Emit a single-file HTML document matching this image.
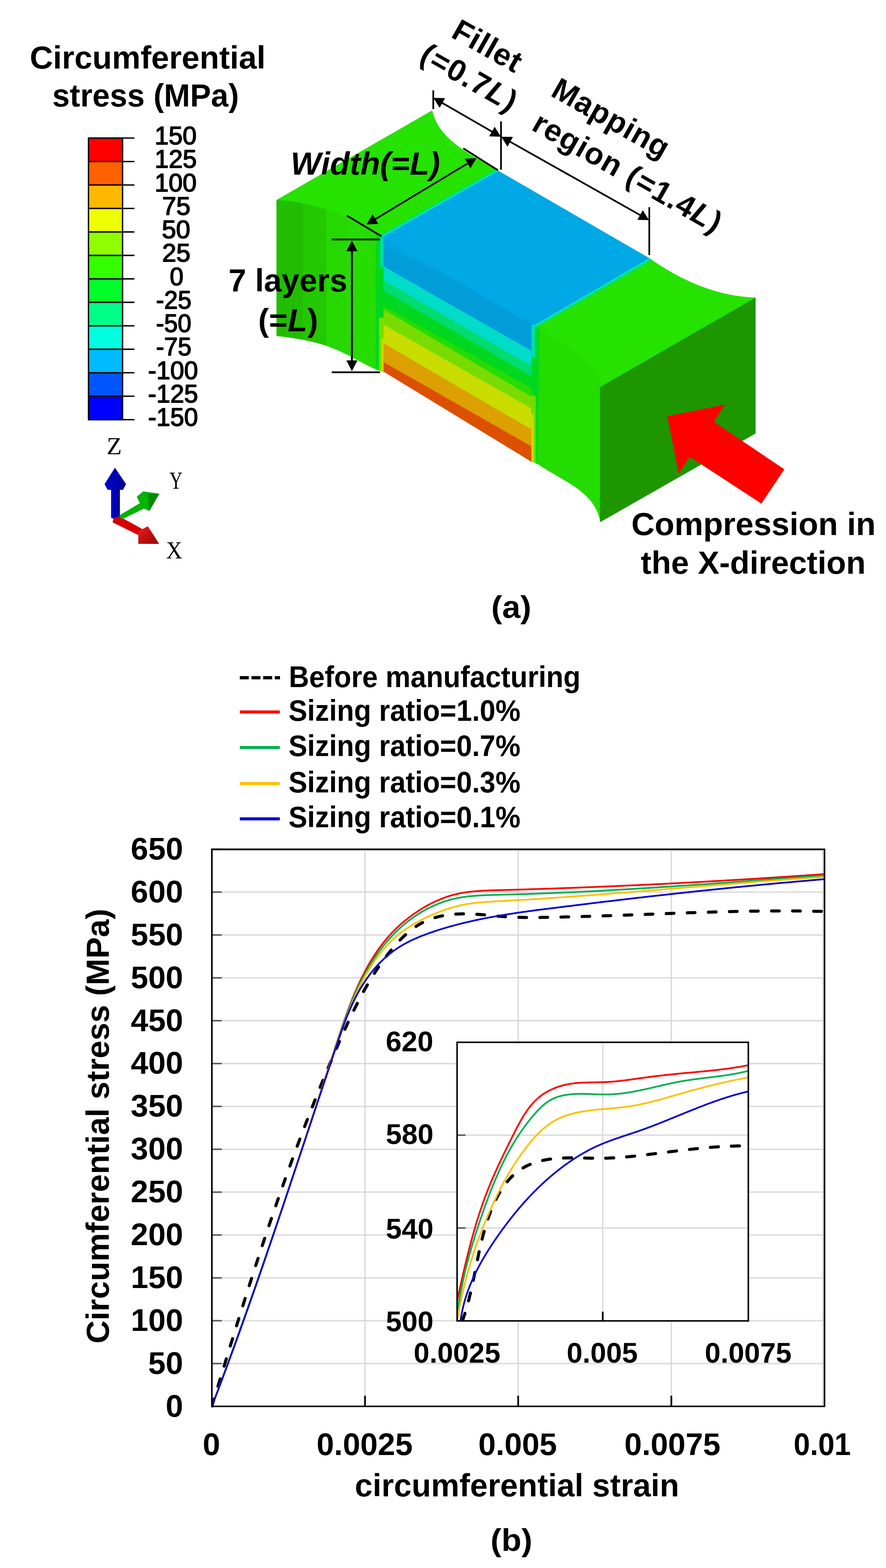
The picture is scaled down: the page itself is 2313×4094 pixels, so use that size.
<!DOCTYPE html>
<html><head><meta charset="utf-8"><style>
html,body{margin:0;padding:0;background:#fff;}
svg{display:block;}
text{font-kerning:none;}
</style></head><body>
<svg width="2313" height="4094" viewBox="0 0 2313 4094">
<rect width="2313" height="4094" fill="#fff"/>
<text transform="translate(81,178.7) scale(1.0115,1)" x="-3.3" y="0" font-size="83" fill="#000" ><tspan font-family="'Liberation Sans', Arial, sans-serif" font-weight="bold" font-style="normal">Circumferential</tspan></text>
<text transform="translate(139.4,278.4) scale(0.9871,1)" x="-2.9" y="0" font-size="83" fill="#000" ><tspan font-family="'Liberation Sans', Arial, sans-serif" font-weight="bold" font-style="normal">stress (MPa)</tspan></text>
<rect x="231" y="360.5" width="89" height="61.3" fill="#FF0000"/>
<rect x="231" y="421.8" width="89" height="61.3" fill="#FF6000"/>
<rect x="231" y="483" width="89" height="61.3" fill="#FFB800"/>
<rect x="231" y="544.3" width="89" height="61.3" fill="#EEFF00"/>
<rect x="231" y="605.6" width="89" height="61.3" fill="#90FF00"/>
<rect x="231" y="666.9" width="89" height="61.3" fill="#33FF00"/>
<rect x="231" y="728.1" width="89" height="61.3" fill="#00FF2A"/>
<rect x="231" y="789.4" width="89" height="61.3" fill="#00FF88"/>
<rect x="231" y="850.7" width="89" height="61.3" fill="#00FFE0"/>
<rect x="231" y="911.9" width="89" height="61.3" fill="#00BBFF"/>
<rect x="231" y="973.2" width="89" height="61.3" fill="#0055FF"/>
<rect x="231" y="1034.5" width="89" height="61.3" fill="#0000FF"/>
<line x1="231" y1="360.5" x2="351" y2="360.5" stroke="#000" stroke-width="3.6" />
<line x1="231" y1="421.8" x2="351" y2="421.8" stroke="#000" stroke-width="3.6" />
<line x1="231" y1="483" x2="351" y2="483" stroke="#000" stroke-width="3.6" />
<line x1="231" y1="544.3" x2="351" y2="544.3" stroke="#000" stroke-width="3.6" />
<line x1="231" y1="605.6" x2="351" y2="605.6" stroke="#000" stroke-width="3.6" />
<line x1="231" y1="666.9" x2="351" y2="666.9" stroke="#000" stroke-width="3.6" />
<line x1="231" y1="728.1" x2="351" y2="728.1" stroke="#000" stroke-width="3.6" />
<line x1="231" y1="789.4" x2="351" y2="789.4" stroke="#000" stroke-width="3.6" />
<line x1="231" y1="850.7" x2="351" y2="850.7" stroke="#000" stroke-width="3.6" />
<line x1="231" y1="911.9" x2="351" y2="911.9" stroke="#000" stroke-width="3.6" />
<line x1="231" y1="973.2" x2="351" y2="973.2" stroke="#000" stroke-width="3.6" />
<line x1="231" y1="1034.5" x2="351" y2="1034.5" stroke="#000" stroke-width="3.6" />
<line x1="231" y1="1095.7" x2="351" y2="1095.7" stroke="#000" stroke-width="3.6" />
<rect x="231" y="360.5" width="89" height="735.2" fill="none" stroke="#000" stroke-width="3.4"/>
<text transform="translate(408.6,377) scale(0.9893,1)" x="-5" y="0" font-size="66.5" fill="#000"  stroke="#000" stroke-width="2.2" stroke-linejoin="round"><tspan font-family="'Liberation Sans', Arial, sans-serif" font-weight="normal" font-style="normal">150</tspan></text>
<text transform="translate(408.7,438.3) scale(0.9915,1)" x="-5" y="0" font-size="66.5" fill="#000"  stroke="#000" stroke-width="2.2" stroke-linejoin="round"><tspan font-family="'Liberation Sans', Arial, sans-serif" font-weight="normal" font-style="normal">125</tspan></text>
<text transform="translate(408.7,499.5) scale(0.9883,1)" x="-5" y="0" font-size="66.5" fill="#000"  stroke="#000" stroke-width="2.2" stroke-linejoin="round"><tspan font-family="'Liberation Sans', Arial, sans-serif" font-weight="normal" font-style="normal">100</tspan></text>
<text transform="translate(426.5,560.8) scale(1.0010,1)" x="-3.3" y="0" font-size="66.5" fill="#000"  stroke="#000" stroke-width="2.2" stroke-linejoin="round"><tspan font-family="'Liberation Sans', Arial, sans-serif" font-weight="normal" font-style="normal">75</tspan></text>
<text transform="translate(425.1,622.1) scale(1.0069,1)" x="-2.7" y="0" font-size="66.5" fill="#000"  stroke="#000" stroke-width="2.2" stroke-linejoin="round"><tspan font-family="'Liberation Sans', Arial, sans-serif" font-weight="normal" font-style="normal">50</tspan></text>
<text transform="translate(426.5,683.4) scale(1.0010,1)" x="-3.3" y="0" font-size="66.5" fill="#000"  stroke="#000" stroke-width="2.2" stroke-linejoin="round"><tspan font-family="'Liberation Sans', Arial, sans-serif" font-weight="normal" font-style="normal">25</tspan></text>
<text transform="translate(445.8,744.6) scale(0.9649,1)" x="-2.7" y="0" font-size="66.5" fill="#000"  stroke="#000" stroke-width="2.2" stroke-linejoin="round"><tspan font-family="'Liberation Sans', Arial, sans-serif" font-weight="normal" font-style="normal">0</tspan></text>
<text transform="translate(410.1,805.9) scale(0.9631,1)" x="-3" y="0" font-size="66.5" fill="#000"  stroke="#000" stroke-width="2.2" stroke-linejoin="round"><tspan font-family="'Liberation Sans', Arial, sans-serif" font-weight="normal" font-style="normal">-25</tspan></text>
<text transform="translate(410.1,867.2) scale(0.9595,1)" x="-3" y="0" font-size="66.5" fill="#000"  stroke="#000" stroke-width="2.2" stroke-linejoin="round"><tspan font-family="'Liberation Sans', Arial, sans-serif" font-weight="normal" font-style="normal">-50</tspan></text>
<text transform="translate(410.1,928.4) scale(0.9631,1)" x="-3" y="0" font-size="66.5" fill="#000"  stroke="#000" stroke-width="2.2" stroke-linejoin="round"><tspan font-family="'Liberation Sans', Arial, sans-serif" font-weight="normal" font-style="normal">-75</tspan></text>
<text transform="translate(389.4,989.7) scale(0.9798,1)" x="-3" y="0" font-size="66.5" fill="#000"  stroke="#000" stroke-width="2.2" stroke-linejoin="round"><tspan font-family="'Liberation Sans', Arial, sans-serif" font-weight="normal" font-style="normal">-100</tspan></text>
<text transform="translate(389.4,1051) scale(0.9824,1)" x="-3" y="0" font-size="66.5" fill="#000"  stroke="#000" stroke-width="2.2" stroke-linejoin="round"><tspan font-family="'Liberation Sans', Arial, sans-serif" font-weight="normal" font-style="normal">-125</tspan></text>
<text transform="translate(389.4,1112.2) scale(0.9798,1)" x="-3" y="0" font-size="66.5" fill="#000"  stroke="#000" stroke-width="2.2" stroke-linejoin="round"><tspan font-family="'Liberation Sans', Arial, sans-serif" font-weight="normal" font-style="normal">-150</tspan></text>
<text transform="translate(281.4,1185.6) scale(1.0271,1)" x="-2.8" y="0" font-size="63" fill="#000" ><tspan font-family="'Liberation Serif', 'Times New Roman', serif" font-weight="normal" font-style="normal">Z</tspan></text>
<text transform="translate(443,1276) scale(0.7415,1)" x="-0.6" y="0" font-size="63" fill="#000" ><tspan font-family="'Liberation Serif', 'Times New Roman', serif" font-weight="normal" font-style="normal">Y</tspan></text>
<text transform="translate(435,1457.7) scale(0.9269,1)" x="-1.3" y="0" font-size="63" fill="#000" ><tspan font-family="'Liberation Serif', 'Times New Roman', serif" font-weight="normal" font-style="normal">X</tspan></text>
<defs><linearGradient id="gz" x1="0" x2="1"><stop offset="0" stop-color="#0000D8"/><stop offset="1" stop-color="#00008C"/></linearGradient><linearGradient id="gx" x1="0" y1="0" x2="1" y2="1"><stop offset="0" stop-color="#E82020"/><stop offset="1" stop-color="#980000"/></linearGradient></defs>
<polygon points="290,1279 313,1279 313,1352 302,1356 290,1352" fill="url(#gz)" />
<polygon points="300,1221 329,1264 321,1279 281,1279 273,1264" fill="url(#gz)" />
<polygon points="296,1354 311,1348 371,1381 363,1398 294,1364" fill="#D40000" />
<polygon points="361,1387 386,1374 415.5,1420 361,1420" fill="url(#gx)" />
<polygon points="311,1346 368,1312 378,1327 318,1356" fill="#00B400" />
<polygon points="357,1297 374,1283 416,1289 390,1334 371,1326" fill="#00B400" />
<polygon points="386,1290 416,1289 390,1334" fill="#008A00" />
<polygon points="722.3,522.5 1128,289 1129.1,293.2 1130.2,297.3 1131.5,301.3 1132.9,305.3 1134.4,309.1 1136,312.9 1137.7,316.6 1139.5,320.2 1141.4,323.8 1143.4,327.3 1145.5,330.7 1147.7,334.1 1150,337.4 1152.3,340.6 1154.8,343.7 1157.3,346.8 1159.9,349.9 1162.6,352.8 1165.3,355.8 1168.1,358.6 1171,361.5 1173.9,364.2 1176.9,366.9 1179.9,369.6 1183,372.2 1186.2,374.8 1189.4,377.4 1192.6,379.9 1195.9,382.3 1199.2,384.7 1202.6,387.1 1206,389.5 1209.4,391.8 1212.9,394.1 1216.4,396.4 1219.9,398.6 1223.4,400.8 1226.9,403 1230.5,405.2 1234.1,407.3 1237.7,409.4 1241.3,411.5 1244.9,413.6 1248.5,415.7 1252.1,417.8 1255.7,419.8 1259.3,421.9 1262.9,423.9 1266.5,426 1270,428 1273.6,430.1 1277.1,432.1 1280.6,434.1 1284.1,436.2 1287.5,438.2 1290.9,440.3 1294.3,442.3 1297.7,444.4 1301,446.5 997,620 996.8,618.1 992.6,615.3 988.3,612.6 984.1,609.8 979.8,607.1 975.4,604.4 971.1,601.8 966.7,599.2 962.4,596.7 958,594.2 953.5,591.7 949.1,589.2 944.6,586.9 940.1,584.5 935.6,582.2 931.1,579.9 926.5,577.7 922,575.5 917.4,573.3 912.8,571.2 908.2,569.1 903.5,567.1 898.9,565.1 894.2,563.1 889.5,561.2 884.8,559.3 880.1,557.5 875.3,555.7 870.6,554 865.8,552.3 861,550.6 856.2,549 851.4,547.4 846.6,545.9 841.7,544.4 836.9,543 832,541.6 827.1,540.2 822.2,538.9 817.3,537.7 812.4,536.5 807.5,535.3 802.6,534.2 797.6,533.1 792.7,532 787.7,531.1 782.7,530.1 777.7,529.2 772.7,528.4 767.7,527.6 762.7,526.8 757.7,526.1 752.6,525.4 747.6,524.8 742.6,524.3 737.5,523.8 732.4,523.3 727.4,522.9 722.3,522.5" fill="#26E200" stroke="#26E200" stroke-width="1.2" stroke-linejoin="round"/>
<polygon points="722.3,522.5 727.4,522.9 732.4,523.3 737.5,523.8 742.6,524.3 747.6,524.8 752.6,525.4 757.7,526.1 762.7,526.8 767.7,527.6 772.7,528.4 777.7,529.2 782.7,530.1 787.7,531.1 791,531.7 791,886.8 787.2,886.1 782.2,885.1 777.2,884.3 772.2,883.5 767.3,882.7 762.3,881.9 757.3,881.2 752.3,880.5 747.3,879.8 742.3,879.2 737.3,878.5 732.3,877.9 727.4,877.4 722.4,876.8 722.3,876.8" fill="#22BD00" stroke="#22BD00" stroke-width="1.2" stroke-linejoin="round"/>
<polygon points="791,531.7 792.7,532 797.6,533.1 802.6,534.2 807.5,535.3 812.4,536.5 817.3,537.7 822.2,538.9 827.1,540.2 832,541.6 836.9,543 841.7,544.4 846.6,545.9 851.4,547.4 852.5,547.8 852.5,902.7 850.6,902 845.9,900.5 841.1,899 836.2,897.6 831.4,896.2 826.5,894.9 821.7,893.6 816.8,892.4 811.9,891.2 806.9,890.1 802,889 797.1,888 792.1,887 791,886.8" fill="#24C800" stroke="#24C800" stroke-width="1.2" stroke-linejoin="round"/>
<polygon points="852.5,547.8 856.2,549 861,550.6 865.8,552.3 870.6,554 875.3,555.7 880.1,557.5 884.8,559.3 889.5,561.2 894.2,563.1 898.9,565.1 903.5,567.1 907,568.6 907,926 906.1,925.6 901.6,923.3 897.1,921.1 892.6,918.9 888,916.8 883.4,914.7 878.8,912.7 874.2,910.8 869.5,908.9 864.9,907.1 860.1,905.3 855.4,903.7 852.5,902.7" fill="#27D800" stroke="#27D800" stroke-width="1.2" stroke-linejoin="round"/>
<polygon points="907,568.6 908.2,569.1 912.8,571.2 917.4,573.3 922,575.5 926.5,577.7 931.1,579.9 935.6,582.2 940.1,584.5 944.6,586.9 949.1,589.2 953.5,591.7 958,594.2 962.4,596.7 966.7,599.2 971.1,601.8 975.4,604.4 979.8,607.1 984.1,609.8 988.3,612.6 992.6,615.3 996.8,618.1 1001,621 1002,621 1002,971 1001,971 996.3,969.5 991.6,967.8 986.9,966 982.3,964.1 977.7,962.1 973.2,960.1 968.7,958 964.2,955.8 959.7,953.6 955.2,951.3 950.7,949 946.3,946.7 941.8,944.3 937.4,942 932.9,939.6 928.5,937.2 924,934.9 919.6,932.5 915.1,930.2 910.6,927.9 907,926" fill="#27DC00" stroke="#27DC00" stroke-width="1.2" stroke-linejoin="round"/>
<polygon points="982,609 1002,621 1002,971 982,962" fill="#00D820" stroke="#00D820" stroke-width="1.2" stroke-linejoin="round"/>
<polygon points="993,615 1002,621 1002,700 993,695" fill="#00DCA8" stroke="#00DCA8" stroke-width="1.2" stroke-linejoin="round"/>
<polygon points="990,830 1002,830 1002,971 990,966" fill="#7CDC00" stroke="#7CDC00" stroke-width="1.2" stroke-linejoin="round"/>
<polygon points="996,885 1002,885 1002,971 996,969" fill="#C8DC00" stroke="#C8DC00" stroke-width="1.2" stroke-linejoin="round"/>
<polygon points="1002,618.4 1389,847.4 1389,917.6 1002,696.4" fill="#009DD9" stroke="#009DD9" stroke-width="1.2" stroke-linejoin="round"/>
<polygon points="1002,696.4 1389,917.6 1389,957.4 1002,732.8" fill="#00DCC8" stroke="#00DCC8" stroke-width="1.2" stroke-linejoin="round"/>
<polygon points="1002,732.8 1389,957.4 1389,984 1002,760.1" fill="#00DC70" stroke="#00DC70" stroke-width="1.2" stroke-linejoin="round"/>
<polygon points="1002,760.1 1389,984 1389,1014.9 1002,799.4" fill="#00D820" stroke="#00D820" stroke-width="1.2" stroke-linejoin="round"/>
<polygon points="1002,799.4 1389,1014.9 1389,1037.2 1002,809.2" fill="#26DC00" stroke="#26DC00" stroke-width="1.2" stroke-linejoin="round"/>
<polygon points="1002,809.2 1389,1037.2 1389,1068.1 1002,848.4" fill="#78DC00" stroke="#78DC00" stroke-width="1.2" stroke-linejoin="round"/>
<polygon points="1002,848.4 1389,1068.1 1389,1122.7 1002,897.4" fill="#C8DC00" stroke="#C8DC00" stroke-width="1.2" stroke-linejoin="round"/>
<polygon points="1002,897.4 1389,1122.7 1389,1167 1002,946.4" fill="#DCA000" stroke="#DCA000" stroke-width="1.2" stroke-linejoin="round"/>
<polygon points="1002,946.4 1389,1167 1389,1205.9 1002,969.9" fill="#DC5000" stroke="#DC5000" stroke-width="1.2" stroke-linejoin="round"/>
<polygon points="1002,623 1160,714 1002,648" fill="#00A3E0" stroke="#00A3E0" stroke-width="1.2" stroke-linejoin="round"/>
<polygon points="997,620 1301,446.5 1695,674.6 1394,850" fill="#00A8E6" stroke="#00A8E6" stroke-width="1.2" stroke-linejoin="round"/>
<polygon points="997,620 1301,446.5 1299,443 995,616.5" fill="#00E2D2" />
<polygon points="995,616.5 1299,443 1297,439.6 993,613.1" fill="#00E060" />
<polygon points="1394,850 1695,674.6 1699.2,677.5 1703.3,680.4 1707.6,683.3 1711.8,686.1 1716,688.9 1720.3,691.7 1724.6,694.4 1728.9,697.1 1733.2,699.8 1737.6,702.5 1741.9,705.1 1746.3,707.6 1750.7,710.2 1755.2,712.7 1759.6,715.2 1764.1,717.6 1768.6,720 1773.1,722.4 1777.6,724.7 1782.1,727 1786.7,729.2 1791.3,731.4 1795.9,733.5 1800.5,735.7 1805.1,737.7 1809.8,739.8 1814.4,741.7 1819.1,743.7 1823.8,745.6 1828.5,747.4 1833.3,749.2 1838,750.9 1842.8,752.6 1847.6,754.3 1852.4,755.9 1857.2,757.4 1862,758.9 1866.9,760.4 1871.7,761.8 1876.6,763.1 1881.5,764.4 1886.4,765.6 1891.3,766.8 1896.3,767.9 1901.2,769 1906.2,770 1911.2,770.9 1916.2,771.8 1921.2,772.7 1926.2,773.4 1931.2,774.1 1936.3,774.8 1941.4,775.4 1946.4,775.9 1951.5,776.3 1956.6,776.7 1961.7,777 1966.9,777.3 1972,777.5 1567,1011.3 1408.7,863.8" fill="#26E200" stroke="#26E200" stroke-width="1.2" stroke-linejoin="round"/>
<polygon points="1394,850 1695,674.6 1697,678.1 1396,853.5" fill="#00E2D2" />
<polygon points="1396,853.5 1697,678.1 1699,681.5 1398,856.9" fill="#00E060" />
<polygon points="1388,848 1409,861 1409,1214 1388,1204" fill="#00D820" stroke="#00D820" stroke-width="1.2" stroke-linejoin="round"/>
<polygon points="1388,848 1396,853 1396,935 1388,930" fill="#00DCB0" stroke="#00DCB0" stroke-width="1.2" stroke-linejoin="round"/>
<polygon points="1388,1030 1398,1036 1398,1209 1388,1204" fill="#70DC00" stroke="#70DC00" stroke-width="1.2" stroke-linejoin="round"/>
<polygon points="1388,1080 1393,1083 1393,1206 1388,1204" fill="#C8DC00" stroke="#C8DC00" stroke-width="1.2" stroke-linejoin="round"/>
<polygon points="1408.7,863.8 1413.6,866.5 1418.6,869.3 1423.6,872 1428.6,874.8 1433.6,877.5 1438.6,880.3 1443.7,883.1 1448.7,885.9 1453.8,888.8 1458.8,891.7 1463.8,894.6 1468.8,897.6 1473.8,900.6 1478.7,903.7 1483.6,906.8 1488.4,910 1493.2,913.2 1498,916.5 1502.7,919.9 1507.3,923.4 1511.8,927 1516.3,930.6 1520.7,934.3 1525,938.2 1529.1,942.1 1533.2,946.2 1537.2,950.3 1541,954.6 1544.6,959 1548,963.5 1551.2,968.2 1554.2,973 1556.9,978 1559.4,983.1 1561.6,988.4 1563.4,993.9 1565,999.5 1566.2,1005.3 1567,1011.3 1567.5,1362.5 1566.7,1358.3 1565.8,1354.3 1564.7,1350.3 1563.6,1346.4 1562.3,1342.6 1560.9,1338.9 1559.4,1335.3 1557.7,1331.8 1556,1328.3 1554.2,1324.9 1552.2,1321.6 1550.2,1318.4 1548.1,1315.3 1545.9,1312.2 1543.6,1309.1 1541.2,1306.2 1538.8,1303.3 1536.2,1300.5 1533.6,1297.7 1530.9,1295 1528.2,1292.3 1525.4,1289.7 1522.5,1287.2 1519.6,1284.7 1516.6,1282.2 1513.5,1279.8 1510.5,1277.4 1507.3,1275.1 1504.1,1272.8 1500.9,1270.5 1497.7,1268.3 1494.4,1266.1 1491.1,1263.9 1487.7,1261.8 1484.4,1259.7 1481,1257.6 1477.6,1255.5 1474.2,1253.4 1470.7,1251.4 1467.3,1249.4 1463.8,1247.4 1460.4,1245.4 1456.9,1243.4 1453.5,1241.4 1450,1239.4 1446.6,1237.4 1443.1,1235.4 1439.7,1233.4 1436.3,1231.4 1432.9,1229.4 1429.5,1227.4 1426.2,1225.4 1422.9,1223.3 1419.6,1221.3 1416.3,1219.2 1413.1,1217.1 1409.9,1214.9 1406.8,1212.8 1403.7,1210.6" fill="#23DC00" stroke="#23DC00" stroke-width="1.2" stroke-linejoin="round"/>
<polygon points="1567,1011.3 1972,778 1972,1131.6 1567,1362.5" fill="#1E9600" stroke="#1E9600" stroke-width="1.2" stroke-linejoin="round"/>
<line x1="1131.1" y1="236" x2="1131.1" y2="285" stroke="#000" stroke-width="4.5" />
<line x1="1307.9" y1="317" x2="1307.9" y2="443" stroke="#000" stroke-width="4.5" />
<line x1="1695" y1="541" x2="1695" y2="666" stroke="#000" stroke-width="4.5" />
<line x1="1150.2" y1="266.2" x2="1288.8" y2="346.2" stroke="#000" stroke-width="4.5" />
<polygon points="1131.5,255.4 1162.1,256.3 1147.6,281.5" fill="#000" />
<polygon points="1307.5,357 1276.9,356.1 1291.4,330.9" fill="#000" />
<line x1="1327.3" y1="367.6" x2="1675.7" y2="564.1" stroke="#000" stroke-width="4.5" />
<polygon points="1308.5,357 1339.1,357.6 1324.9,382.9" fill="#000" />
<polygon points="1694.5,574.7 1663.9,574.1 1678.1,548.8" fill="#000" />
<line x1="1209.5" y1="387.4" x2="1300" y2="444.5" stroke="#000" stroke-width="4.5" />
<line x1="905.2" y1="562.7" x2="996" y2="617" stroke="#000" stroke-width="4.5" />
<line x1="975.5" y1="574.7" x2="1225.3" y2="424.1" stroke="#000" stroke-width="4.5" />
<polygon points="957,585.9 972.6,559.5 987.6,584.4" fill="#000" />
<polygon points="1243.8,412.9 1228.2,439.3 1213.2,414.4" fill="#000" />
<line x1="866" y1="625.2" x2="992" y2="625.2" stroke="#000" stroke-width="4.5" />
<line x1="866" y1="971.9" x2="992" y2="971.9" stroke="#000" stroke-width="4.5" />
<line x1="918.7" y1="650.4" x2="918.7" y2="946.6" stroke="#000" stroke-width="5" />
<polygon points="918.7,628 933.2,656 904.2,656" fill="#000" />
<polygon points="918.7,969 904.2,941 933.2,941" fill="#000" />
<text transform="translate(1179,98) rotate(29.6)" x="-5.2" y="0" font-size="80" fill="#000" letter-spacing="1.5" ><tspan font-family="'Liberation Sans', Arial, sans-serif" font-weight="bold" font-style="normal">Fillet</tspan></text>
<text transform="translate(1095,160) rotate(29.6)" x="-4" y="0" font-size="80" fill="#000" letter-spacing="2.5" ><tspan font-family="'Liberation Sans', Arial, sans-serif" font-weight="bold" font-style="normal">(=0.7</tspan><tspan font-family="'Liberation Sans', Arial, sans-serif" font-weight="bold" font-style="italic">L</tspan><tspan font-family="'Liberation Sans', Arial, sans-serif" font-weight="bold" font-style="normal">)</tspan></text>
<text transform="translate(1439,251) rotate(29.6)" x="-5.2" y="0" font-size="80" fill="#000" letter-spacing="1.5" ><tspan font-family="'Liberation Sans', Arial, sans-serif" font-weight="bold" font-style="normal">Mapping</tspan></text>
<text transform="translate(1389,340) rotate(29.6)" x="-5.2" y="0" font-size="80" fill="#000" letter-spacing="2" ><tspan font-family="'Liberation Sans', Arial, sans-serif" font-weight="bold" font-style="normal">region (=1.4</tspan><tspan font-family="'Liberation Sans', Arial, sans-serif" font-weight="bold" font-style="italic">L</tspan><tspan font-family="'Liberation Sans', Arial, sans-serif" font-weight="bold" font-style="normal">)</tspan></text>
<text transform="translate(765,456) scale(1.0137,1)" x="-6.2" y="0" font-size="83" fill="#000" ><tspan font-family="'Liberation Sans', Arial, sans-serif" font-weight="bold" font-style="italic">Width(=L)</tspan></text>
<text transform="translate(599.7,761) scale(1.0039,1)" x="-3.3" y="0" font-size="83" fill="#000" ><tspan font-family="'Liberation Sans', Arial, sans-serif" font-weight="bold" font-style="normal">7 layers</tspan></text>
<text transform="translate(678.3,864.6) scale(1.0123,1)" x="-4.2" y="0" font-size="83" fill="#000" ><tspan font-family="'Liberation Sans', Arial, sans-serif" font-weight="bold" font-style="normal">(=</tspan><tspan font-family="'Liberation Sans', Arial, sans-serif" font-weight="bold" font-style="italic">L</tspan><tspan font-family="'Liberation Sans', Arial, sans-serif" font-weight="bold" font-style="normal">)</tspan></text>
<polygon points="1742,1086.4 1893,1056 1863.5,1101 2047.6,1225.4 1987.7,1315 1801,1193 1771.6,1236" fill="#FF0000" />
<text transform="translate(1651.5,1397) scale(1.0173,1)" x="-3.3" y="0" font-size="83" fill="#000" ><tspan font-family="'Liberation Sans', Arial, sans-serif" font-weight="bold" font-style="normal">Compression in</tspan></text>
<text transform="translate(1673.5,1497.5) scale(1.0111,1)" x="-0.8" y="0" font-size="83" fill="#000" ><tspan font-family="'Liberation Sans', Arial, sans-serif" font-weight="bold" font-style="normal">the X-direction</tspan></text>
<text transform="translate(1286.6,1613) scale(1.0579,1)" x="-4" y="0" font-size="81" fill="#000" ><tspan font-family="'Liberation Sans', Arial, sans-serif" font-weight="bold" font-style="normal">(a)</tspan></text>
<line x1="626" y1="1769.5" x2="731" y2="1769.5" stroke="#000" stroke-width="8.5" stroke-dasharray="23.5 7"/>
<line x1="626" y1="1859" x2="730.5" y2="1859" stroke="#FF0000" stroke-width="8" />
<line x1="626" y1="1951.7" x2="730.5" y2="1951.7" stroke="#00B050" stroke-width="8" />
<line x1="626" y1="2045.7" x2="730.5" y2="2045.7" stroke="#FFC000" stroke-width="8" />
<line x1="626" y1="2138" x2="730.5" y2="2138" stroke="#0000D6" stroke-width="8" />
<text transform="translate(758.9,1793.7) scale(0.9397,1)" x="-5.1" y="0" font-size="78" fill="#000" ><tspan font-family="'Liberation Sans', Arial, sans-serif" font-weight="bold" font-style="normal">Before manufacturing</tspan></text>
<text transform="translate(755.3,1882) scale(0.9408,1)" x="-2.3" y="0" font-size="78" fill="#000" ><tspan font-family="'Liberation Sans', Arial, sans-serif" font-weight="bold" font-style="normal">Sizing ratio=1.0%</tspan></text>
<text transform="translate(755.3,1974) scale(0.9408,1)" x="-2.3" y="0" font-size="78" fill="#000" ><tspan font-family="'Liberation Sans', Arial, sans-serif" font-weight="bold" font-style="normal">Sizing ratio=0.7%</tspan></text>
<text transform="translate(755.3,2068.5) scale(0.9408,1)" x="-2.3" y="0" font-size="78" fill="#000" ><tspan font-family="'Liberation Sans', Arial, sans-serif" font-weight="bold" font-style="normal">Sizing ratio=0.3%</tspan></text>
<text transform="translate(755.3,2159.5) scale(0.9408,1)" x="-2.3" y="0" font-size="78" fill="#000" ><tspan font-family="'Liberation Sans', Arial, sans-serif" font-weight="bold" font-style="normal">Sizing ratio=0.1%</tspan></text>
<line x1="553" y1="3560.2" x2="2152.5" y2="3560.2" stroke="#D9D9D9" stroke-width="3.5" />
<line x1="553" y1="3448.3" x2="2152.5" y2="3448.3" stroke="#D9D9D9" stroke-width="3.5" />
<line x1="553" y1="3336.4" x2="2152.5" y2="3336.4" stroke="#D9D9D9" stroke-width="3.5" />
<line x1="553" y1="3224.5" x2="2152.5" y2="3224.5" stroke="#D9D9D9" stroke-width="3.5" />
<line x1="553" y1="3112.6" x2="2152.5" y2="3112.6" stroke="#D9D9D9" stroke-width="3.5" />
<line x1="553" y1="3000.7" x2="2152.5" y2="3000.7" stroke="#D9D9D9" stroke-width="3.5" />
<line x1="553" y1="2888.8" x2="2152.5" y2="2888.8" stroke="#D9D9D9" stroke-width="3.5" />
<line x1="553" y1="2776.9" x2="2152.5" y2="2776.9" stroke="#D9D9D9" stroke-width="3.5" />
<line x1="553" y1="2665" x2="2152.5" y2="2665" stroke="#D9D9D9" stroke-width="3.5" />
<line x1="553" y1="2553.1" x2="2152.5" y2="2553.1" stroke="#D9D9D9" stroke-width="3.5" />
<line x1="553" y1="2441.2" x2="2152.5" y2="2441.2" stroke="#D9D9D9" stroke-width="3.5" />
<line x1="553" y1="2329.3" x2="2152.5" y2="2329.3" stroke="#D9D9D9" stroke-width="3.5" />
<line x1="553" y1="2217.4" x2="2152.5" y2="2217.4" stroke="#D9D9D9" stroke-width="3.5" />
<line x1="952.9" y1="2217.4" x2="952.9" y2="3672.1" stroke="#D9D9D9" stroke-width="3.5" />
<line x1="1352.8" y1="2217.4" x2="1352.8" y2="3672.1" stroke="#D9D9D9" stroke-width="3.5" />
<line x1="1752.6" y1="2217.4" x2="1752.6" y2="3672.1" stroke="#D9D9D9" stroke-width="3.5" />
<line x1="2148.5" y1="2217.4" x2="2148.5" y2="3672.1" stroke="#D9D9D9" stroke-width="3.5" />
<line x1="556.5" y1="2217.4" x2="556.5" y2="3672.1" stroke="#D9D9D9" stroke-width="2.5" />
<line x1="553" y1="2221" x2="2152.5" y2="2221" stroke="#D9D9D9" stroke-width="2.5" />
<line x1="553" y1="3560.2" x2="579" y2="3560.2" stroke="#5A5A5A" stroke-width="4" />
<line x1="553" y1="3448.3" x2="579" y2="3448.3" stroke="#5A5A5A" stroke-width="4" />
<line x1="553" y1="3336.4" x2="579" y2="3336.4" stroke="#5A5A5A" stroke-width="4" />
<line x1="553" y1="3224.5" x2="579" y2="3224.5" stroke="#5A5A5A" stroke-width="4" />
<line x1="553" y1="3112.6" x2="579" y2="3112.6" stroke="#5A5A5A" stroke-width="4" />
<line x1="553" y1="3000.7" x2="579" y2="3000.7" stroke="#5A5A5A" stroke-width="4" />
<line x1="553" y1="2888.8" x2="579" y2="2888.8" stroke="#5A5A5A" stroke-width="4" />
<line x1="553" y1="2776.9" x2="579" y2="2776.9" stroke="#5A5A5A" stroke-width="4" />
<line x1="553" y1="2665" x2="579" y2="2665" stroke="#5A5A5A" stroke-width="4" />
<line x1="553" y1="2553.1" x2="579" y2="2553.1" stroke="#5A5A5A" stroke-width="4" />
<line x1="553" y1="2441.2" x2="579" y2="2441.2" stroke="#5A5A5A" stroke-width="4" />
<line x1="553" y1="2329.3" x2="579" y2="2329.3" stroke="#5A5A5A" stroke-width="4" />
<line x1="553" y1="2217.4" x2="579" y2="2217.4" stroke="#5A5A5A" stroke-width="4" />
<line x1="952.9" y1="3672.1" x2="952.9" y2="3644.1" stroke="#000" stroke-width="4.5" />
<line x1="1352.8" y1="3672.1" x2="1352.8" y2="3644.1" stroke="#000" stroke-width="4.5" />
<line x1="1752.6" y1="3672.1" x2="1752.6" y2="3644.1" stroke="#000" stroke-width="4.5" />
<text transform="translate(435.7,3698.6)" x="-3.3" y="0" font-size="82" fill="#000" ><tspan font-family="'Liberation Sans', Arial, sans-serif" font-weight="bold" font-style="normal">0</tspan></text>
<text transform="translate(389.3,3586.7)" x="-2.5" y="0" font-size="82" fill="#000" ><tspan font-family="'Liberation Sans', Arial, sans-serif" font-weight="bold" font-style="normal">50</tspan></text>
<text transform="translate(346.3,3474.8)" x="-4.9" y="0" font-size="82" fill="#000" ><tspan font-family="'Liberation Sans', Arial, sans-serif" font-weight="bold" font-style="normal">100</tspan></text>
<text transform="translate(346.3,3362.9)" x="-4.9" y="0" font-size="82" fill="#000" ><tspan font-family="'Liberation Sans', Arial, sans-serif" font-weight="bold" font-style="normal">150</tspan></text>
<text transform="translate(344.2,3251)" x="-2.9" y="0" font-size="82" fill="#000" ><tspan font-family="'Liberation Sans', Arial, sans-serif" font-weight="bold" font-style="normal">200</tspan></text>
<text transform="translate(344.2,3139.1)" x="-2.9" y="0" font-size="82" fill="#000" ><tspan font-family="'Liberation Sans', Arial, sans-serif" font-weight="bold" font-style="normal">250</tspan></text>
<text transform="translate(343.4,3027.2)" x="-2.1" y="0" font-size="82" fill="#000" ><tspan font-family="'Liberation Sans', Arial, sans-serif" font-weight="bold" font-style="normal">300</tspan></text>
<text transform="translate(343.4,2915.3)" x="-2.1" y="0" font-size="82" fill="#000" ><tspan font-family="'Liberation Sans', Arial, sans-serif" font-weight="bold" font-style="normal">350</tspan></text>
<text transform="translate(342.6,2803.4)" x="-1.2" y="0" font-size="82" fill="#000" ><tspan font-family="'Liberation Sans', Arial, sans-serif" font-weight="bold" font-style="normal">400</tspan></text>
<text transform="translate(342.6,2691.5)" x="-1.2" y="0" font-size="82" fill="#000" ><tspan font-family="'Liberation Sans', Arial, sans-serif" font-weight="bold" font-style="normal">450</tspan></text>
<text transform="translate(343.8,2579.6)" x="-2.5" y="0" font-size="82" fill="#000" ><tspan font-family="'Liberation Sans', Arial, sans-serif" font-weight="bold" font-style="normal">500</tspan></text>
<text transform="translate(343.8,2467.7)" x="-2.5" y="0" font-size="82" fill="#000" ><tspan font-family="'Liberation Sans', Arial, sans-serif" font-weight="bold" font-style="normal">550</tspan></text>
<text transform="translate(344.2,2355.8)" x="-2.9" y="0" font-size="82" fill="#000" ><tspan font-family="'Liberation Sans', Arial, sans-serif" font-weight="bold" font-style="normal">600</tspan></text>
<text transform="translate(344.2,2243.9)" x="-2.9" y="0" font-size="82" fill="#000" ><tspan font-family="'Liberation Sans', Arial, sans-serif" font-weight="bold" font-style="normal">650</tspan></text>
<text transform="translate(532.5,3798.5)" x="-3.3" y="0" font-size="82" fill="#000" ><tspan font-family="'Liberation Sans', Arial, sans-serif" font-weight="bold" font-style="normal">0</tspan></text>
<text transform="translate(829.8,3798.5)" x="-3.3" y="0" font-size="82" fill="#000" ><tspan font-family="'Liberation Sans', Arial, sans-serif" font-weight="bold" font-style="normal">0.0025</tspan></text>
<text transform="translate(1252,3798.5)" x="-3.3" y="0" font-size="82" fill="#000" ><tspan font-family="'Liberation Sans', Arial, sans-serif" font-weight="bold" font-style="normal">0.005</tspan></text>
<text transform="translate(1633.4,3798.5)" x="-3.3" y="0" font-size="82" fill="#000" ><tspan font-family="'Liberation Sans', Arial, sans-serif" font-weight="bold" font-style="normal">0.0075</tspan></text>
<text transform="translate(2075.2,3798.5) scale(0.9341,1)" x="-3.3" y="0" font-size="82" fill="#000" ><tspan font-family="'Liberation Sans', Arial, sans-serif" font-weight="bold" font-style="normal">0.01</tspan></text>
<text transform="translate(929.7,3907.2) scale(0.9912,1)" x="-3.4" y="0" font-size="84" fill="#000" ><tspan font-family="'Liberation Sans', Arial, sans-serif" font-weight="bold" font-style="normal">circumferential strain</tspan></text>
<text transform="translate(1284.7,4048.5) scale(1.0557,1)" x="-4" y="0" font-size="81" fill="#000" ><tspan font-family="'Liberation Sans', Arial, sans-serif" font-weight="bold" font-style="normal">(b)</tspan></text>
<text transform="translate(283.5,3504.5) rotate(-90) scale(0.9968,1)" x="-3.4" y="0" font-size="84" fill="#000" ><tspan font-family="'Liberation Sans', Arial, sans-serif" font-weight="bold" font-style="normal">Circumferential stress (MPa)</tspan></text>
<clipPath id="cpm"><rect x="553" y="2215" width="1600" height="1460"/></clipPath>
<g clip-path="url(#cpm)" fill="none" stroke-linejoin="round">
<path d="M553.0,3672.1 L554.8,3666.2 L556.6,3660.3 L558.4,3654.4 L560.1,3648.6 L561.9,3642.7 L563.7,3636.8 L565.5,3630.9 L567.3,3625.0 L569.1,3619.2 L570.9,3613.3 L572.7,3607.4 L574.4,3601.5 L576.2,3595.6 L578.0,3589.8 L579.8,3583.9 L581.6,3578.0 L583.4,3572.1 L585.2,3566.3 L587.0,3560.4 L588.8,3554.5 L590.6,3548.6 L592.4,3542.8 L594.2,3536.9 L596.0,3531.0 L597.8,3525.2 L599.6,3519.3 L601.4,3513.4 L603.3,3507.6 L605.1,3501.7 L606.9,3495.8 L608.7,3490.0 L610.5,3484.1 L612.3,3478.2 L614.2,3472.4 L616.0,3466.5 L617.8,3460.6 L619.6,3454.8 L621.5,3448.9 L623.3,3443.1 L625.1,3437.2 L627.0,3431.4 L628.8,3425.5 L630.7,3419.7 L632.5,3413.8 L634.4,3408.0 L636.2,3402.1 L638.1,3396.3 L639.9,3390.4 L641.8,3384.6 L643.6,3378.7 L645.5,3372.9 L647.4,3367.0 L649.2,3361.2 L651.1,3355.3 L653.0,3349.5 L654.9,3343.7 L656.7,3337.8 L658.6,3332.0 L660.5,3326.2 L662.4,3320.3 L664.3,3314.5 L666.2,3308.7 L668.1,3302.8 L670.0,3297.0 L671.9,3291.2 L673.8,3285.3 L675.7,3279.5 L677.6,3273.7 L679.5,3267.9 L681.5,3262.1 L683.4,3256.2 L685.3,3250.4 L687.3,3244.6 L689.2,3238.8 L691.1,3233.0 L693.1,3227.2 L695.0,3221.3 L697.0,3215.5 L698.9,3209.7 L700.9,3203.9 L702.9,3198.1 L704.8,3192.3 L706.8,3186.5 L708.8,3180.7 L710.8,3174.9 L712.8,3169.1 L714.8,3163.3 L716.8,3157.5 L718.8,3151.7 L720.8,3145.9 L722.8,3140.1 L724.8,3134.4 L726.8,3128.6 L728.8,3122.8 L730.9,3117.0 L732.9,3111.2 L734.9,3105.4 L737.0,3099.7 L739.0,3093.9 L741.1,3088.1 L743.1,3082.3 L745.2,3076.6 L747.3,3070.8 L749.3,3065.0 L751.4,3059.2 L753.5,3053.5 L755.6,3047.7 L757.7,3042.0 L759.8,3036.2 L761.9,3030.4 L764.0,3024.7 L766.1,3018.9 L768.2,3013.2 L770.3,3007.4 L772.5,3001.7 L774.6,2995.9 L776.8,2990.2 L778.9,2984.4 L781.1,2978.7 L783.2,2973.0 L785.4,2967.2 L787.6,2961.5 L789.7,2955.7 L791.9,2950.0 L794.1,2944.3 L796.3,2938.6 L798.5,2932.8 L800.7,2927.1 L803.0,2921.4 L805.2,2915.7 L807.4,2909.9 L809.6,2904.2 L811.9,2898.5 L814.1,2892.8 L816.4,2887.1 L818.7,2881.4 L820.9,2875.7 L823.2,2870.0 L825.5,2864.3 L827.8,2858.6 L830.1,2852.9 L832.4,2847.2 L834.7,2841.5 L837.0,2835.8 L839.3,2830.1 L841.7,2824.4 L844.0,2818.7 L846.3,2813.1 L848.7,2807.4 L851.0,2801.7 L853.4,2796.0 L855.8,2790.4 L858.2,2784.7 L860.6,2779.0 L863.0,2773.4 L865.4,2767.7 L867.8,2762.0 L870.2,2756.4 L872.6,2750.7 L875.1,2745.1 L877.5,2739.4 L879.9,2733.8 L882.4,2728.1 L884.9,2722.5 L887.3,2716.8 L889.8,2711.2 L892.3,2705.6 L894.8,2699.9 L897.3,2694.3 L899.9,2688.7 L902.4,2683.1 L905.0,2677.5 L907.5,2671.9 L910.1,2666.3 L912.7,2660.7 L915.4,2655.1 L918.0,2649.6 L920.7,2644.0 L923.4,2638.5 L926.1,2633.0 L928.9,2627.5 L931.6,2622.0 L934.4,2616.5 L937.2,2611.1 L940.1,2605.6 L943.0,2600.2 L945.9,2594.8 L948.8,2589.4 L951.8,2584.0 L954.8,2578.7 L957.9,2573.4 L961.0,2568.1 L964.1,2562.8 L967.2,2557.5 L970.4,2552.3 L973.7,2547.1 L977.0,2541.9 L980.3,2536.8 L983.7,2531.7 L987.1,2526.6 L990.5,2521.5 L994.1,2516.5 L997.6,2511.5 L1001.2,2506.5 L1004.9,2501.6 L1008.6,2496.7 L1012.3,2491.8 L1016.1,2486.9 L1020.0,2482.1 L1023.9,2477.4 L1027.9,2472.6 L1032.0,2468.0 L1036.1,2463.4 L1040.2,2458.8 L1044.5,2454.3 L1048.8,2450.0 L1053.1,2445.7 L1057.6,2441.5 L1062.1,2437.4 L1066.7,2433.5 L1071.4,2429.6 L1076.1,2425.9 L1081.0,2422.4 L1085.9,2419.0 L1090.9,2415.7 L1096.0,2412.7 L1101.3,2409.8 L1106.5,2407.1 L1111.9,2404.5 L1117.4,2402.2 L1123.0,2400.1 L1128.6,2398.1 L1134.3,2396.3 L1140.1,2394.6 L1146.0,2393.1 L1151.9,2391.8 L1157.8,2390.6 L1163.8,2389.6 L1169.9,2388.7 L1176.0,2387.9 L1182.1,2387.3 L1188.2,2386.8 L1194.4,2386.4 L1200.6,2386.2 L1206.8,2386.0 L1213.0,2386.0 L1219.2,2386.1 L1225.4,2386.2 L1231.6,2386.5 L1237.9,2386.8 L1244.1,2387.2 L1250.3,2387.6 L1256.6,2388.1 L1262.8,2388.6 L1269.0,2389.2 L1275.3,2389.8 L1281.5,2390.3 L1287.7,2390.9 L1293.9,2391.5 L1300.1,2392.0 L1306.3,2392.6 L1312.5,2393.1 L1318.7,2393.5 L1324.9,2393.9 L1331.0,2394.2 L1337.2,2394.5 L1343.3,2394.8 L1349.5,2395.0 L1355.6,2395.2 L1361.7,2395.3 L1367.8,2395.4 L1373.9,2395.5 L1380.0,2395.5 L1386.1,2395.5 L1392.2,2395.5 L1398.3,2395.5 L1404.4,2395.4 L1410.5,2395.4 L1416.6,2395.3 L1422.7,2395.2 L1428.8,2395.1 L1434.9,2395.0 L1441.0,2394.9 L1447.0,2394.8 L1453.1,2394.7 L1459.2,2394.5 L1465.4,2394.4 L1471.5,2394.3 L1477.6,2394.1 L1483.7,2394.0 L1489.8,2393.8 L1495.9,2393.7 L1502.0,2393.5 L1508.1,2393.4 L1514.2,2393.2 L1520.3,2393.0 L1526.5,2392.8 L1532.6,2392.7 L1538.7,2392.5 L1544.8,2392.3 L1550.9,2392.1 L1557.1,2391.9 L1563.2,2391.7 L1569.3,2391.5 L1575.4,2391.3 L1581.6,2391.1 L1587.7,2390.9 L1593.8,2390.7 L1600.0,2390.5 L1606.1,2390.3 L1612.2,2390.0 L1618.4,2389.8 L1624.5,2389.6 L1630.6,2389.4 L1636.8,2389.2 L1642.9,2388.9 L1649.0,2388.7 L1655.2,2388.5 L1661.3,2388.3 L1667.5,2388.0 L1673.6,2387.8 L1679.7,2387.6 L1685.9,2387.4 L1692.0,2387.1 L1698.2,2386.9 L1704.3,2386.7 L1710.5,2386.4 L1716.6,2386.2 L1722.8,2386.0 L1728.9,2385.8 L1735.1,2385.5 L1741.2,2385.3 L1747.4,2385.1 L1753.5,2384.9 L1759.6,2384.6 L1765.8,2384.4 L1771.9,2384.2 L1778.1,2384.0 L1784.2,2383.8 L1790.4,2383.6 L1796.5,2383.3 L1802.7,2383.1 L1808.8,2382.9 L1815.0,2382.7 L1821.1,2382.5 L1827.3,2382.3 L1833.4,2382.1 L1839.6,2382.0 L1845.7,2381.8 L1851.9,2381.6 L1858.0,2381.4 L1864.2,2381.2 L1870.3,2381.1 L1876.5,2380.9 L1882.6,2380.7 L1888.8,2380.6 L1894.9,2380.4 L1901.1,2380.3 L1907.2,2380.1 L1913.4,2380.0 L1919.5,2379.8 L1925.7,2379.7 L1931.8,2379.6 L1938.0,2379.5 L1944.1,2379.3 L1950.3,2379.2 L1956.4,2379.1 L1962.6,2379.0 L1968.7,2379.0 L1974.8,2378.9 L1981.0,2378.8 L1987.1,2378.7 L1993.3,2378.7 L1999.4,2378.6 L2005.5,2378.5 L2011.7,2378.5 L2017.8,2378.5 L2024.0,2378.4 L2030.1,2378.4 L2036.2,2378.4 L2042.4,2378.4 L2048.5,2378.4 L2054.6,2378.4 L2060.8,2378.4 L2066.9,2378.5 L2073.0,2378.5 L2079.2,2378.5 L2085.3,2378.6 L2091.4,2378.7 L2097.5,2378.7 L2103.7,2378.8 L2109.8,2378.9 L2115.9,2379.0 L2122.0,2379.1 L2128.1,2379.2 L2134.3,2379.4 L2140.4,2379.5 L2146.5,2379.6 L2152.6,2379.8" stroke="#000" stroke-width="8" stroke-dasharray="20 35" stroke-linecap="round"/>
<path d="M553.0,3672.1 L555.2,3666.2 L557.5,3660.4 L559.7,3654.5 L561.9,3648.7 L564.1,3642.8 L566.3,3637.0 L568.5,3631.1 L570.7,3625.3 L572.9,3619.4 L575.1,3613.5 L577.3,3607.7 L579.5,3601.8 L581.7,3595.9 L583.8,3590.1 L586.0,3584.2 L588.2,3578.4 L590.4,3572.5 L592.5,3566.6 L594.7,3560.8 L596.8,3554.9 L599.0,3549.0 L601.1,3543.2 L603.3,3537.3 L605.4,3531.4 L607.6,3525.5 L609.7,3519.7 L611.8,3513.8 L613.9,3507.9 L616.1,3502.1 L618.2,3496.2 L620.3,3490.3 L622.4,3484.4 L624.5,3478.6 L626.6,3472.7 L628.8,3466.8 L630.9,3460.9 L633.0,3455.1 L635.1,3449.2 L637.1,3443.3 L639.2,3437.4 L641.3,3431.5 L643.4,3425.7 L645.5,3419.8 L647.6,3413.9 L649.6,3408.0 L651.7,3402.1 L653.8,3396.2 L655.9,3390.4 L657.9,3384.5 L660.0,3378.6 L662.0,3372.7 L664.1,3366.8 L666.2,3360.9 L668.2,3355.0 L670.3,3349.1 L672.3,3343.3 L674.4,3337.4 L676.4,3331.5 L678.4,3325.6 L680.5,3319.7 L682.5,3313.8 L684.5,3307.9 L686.6,3302.0 L688.6,3296.1 L690.6,3290.2 L692.6,3284.3 L694.7,3278.4 L696.7,3272.5 L698.7,3266.6 L700.7,3260.7 L702.7,3254.8 L704.7,3248.9 L706.8,3243.0 L708.8,3237.1 L710.8,3231.2 L712.8,3225.3 L714.8,3219.4 L716.8,3213.5 L718.8,3207.6 L720.8,3201.7 L722.8,3195.8 L724.8,3189.9 L726.7,3184.0 L728.7,3178.1 L730.7,3172.2 L732.7,3166.3 L734.7,3160.4 L736.7,3154.5 L738.7,3148.6 L740.6,3142.7 L742.6,3136.7 L744.6,3130.8 L746.6,3124.9 L748.6,3119.0 L750.5,3113.1 L752.5,3107.2 L754.5,3101.3 L756.4,3095.4 L758.4,3089.4 L760.4,3083.5 L762.3,3077.6 L764.3,3071.7 L766.3,3065.8 L768.2,3059.9 L770.2,3054.0 L772.2,3048.0 L774.1,3042.1 L776.1,3036.2 L778.0,3030.3 L780.0,3024.4 L782.0,3018.4 L783.9,3012.5 L785.9,3006.6 L787.8,3000.7 L789.8,2994.8 L791.7,2988.8 L793.7,2982.9 L795.6,2977.0 L797.6,2971.1 L799.5,2965.1 L801.5,2959.2 L803.4,2953.3 L805.4,2947.4 L807.3,2941.4 L809.3,2935.5 L811.2,2929.6 L813.2,2923.7 L815.1,2917.7 L817.1,2911.8 L819.0,2905.9 L821.0,2899.9 L822.9,2894.0 L824.9,2888.1 L826.8,2882.1 L828.8,2876.2 L830.7,2870.3 L832.7,2864.4 L834.6,2858.4 L836.6,2852.5 L838.5,2846.6 L840.5,2840.6 L842.4,2834.7 L844.4,2828.8 L846.3,2822.8 L848.2,2816.9 L850.2,2810.9 L852.1,2805.0 L854.1,2799.1 L856.0,2793.1 L858.0,2787.2 L859.9,2781.3 L861.9,2775.3 L863.8,2769.4 L865.8,2763.4 L867.7,2757.5 L869.7,2751.6 L871.7,2745.6 L873.6,2739.7 L875.6,2733.7 L877.5,2727.8 L879.5,2721.9 L881.4,2715.9 L883.4,2710.0 L885.4,2704.0 L887.3,2698.1 L889.3,2692.2 L891.3,2686.2 L893.3,2680.3 L895.4,2674.4 L897.4,2668.5 L899.5,2662.6 L901.6,2656.7 L903.7,2650.8 L905.8,2645.0 L907.9,2639.1 L910.1,2633.2 L912.3,2627.4 L914.6,2621.6 L916.8,2615.8 L919.1,2610.0 L921.5,2604.2 L923.8,2598.4 L926.2,2592.7 L928.7,2587.0 L931.2,2581.3 L933.7,2575.6 L936.3,2569.9 L938.9,2564.2 L941.6,2558.6 L944.3,2553.0 L947.1,2547.4 L949.9,2541.9 L952.8,2536.3 L955.7,2530.8 L958.7,2525.4 L961.7,2519.9 L964.9,2514.5 L968.0,2509.2 L971.3,2503.9 L974.6,2498.6 L977.9,2493.3 L981.4,2488.2 L984.9,2483.0 L988.4,2477.9 L992.1,2472.9 L995.8,2467.9 L999.6,2463.0 L1003.4,2458.1 L1007.4,2453.3 L1011.4,2448.5 L1015.5,2443.9 L1019.7,2439.2 L1023.9,2434.7 L1028.3,2430.2 L1032.7,2425.8 L1037.2,2421.5 L1041.8,2417.2 L1046.4,2413.0 L1051.1,2408.9 L1055.9,2404.9 L1060.8,2400.9 L1065.7,2397.0 L1070.7,2393.2 L1075.8,2389.5 L1080.9,2385.8 L1086.1,2382.3 L1091.3,2378.8 L1096.6,2375.4 L1102.0,2372.1 L1107.4,2368.9 L1112.8,2365.7 L1118.3,2362.7 L1123.9,2359.8 L1129.5,2357.0 L1135.1,2354.2 L1140.8,2351.7 L1146.5,2349.2 L1152.3,2346.8 L1158.1,2344.6 L1163.9,2342.5 L1169.8,2340.5 L1175.7,2338.7 L1181.7,2337.0 L1187.6,2335.4 L1193.6,2334.0 L1199.7,2332.7 L1205.7,2331.6 L1211.8,2330.5 L1217.9,2329.6 L1224.0,2328.8 L1230.2,2328.1 L1236.3,2327.4 L1242.5,2326.9 L1248.7,2326.4 L1254.9,2326.0 L1261.1,2325.6 L1267.3,2325.3 L1273.5,2325.1 L1279.8,2324.8 L1286.0,2324.6 L1292.3,2324.4 L1298.5,2324.3 L1304.8,2324.1 L1311.0,2323.9 L1317.3,2323.8 L1323.5,2323.6 L1329.8,2323.4 L1336.0,2323.3 L1342.3,2323.1 L1348.5,2322.9 L1354.8,2322.7 L1361.0,2322.5 L1367.3,2322.4 L1373.5,2322.2 L1379.7,2322.0 L1386.0,2321.8 L1392.2,2321.6 L1398.5,2321.4 L1404.7,2321.2 L1411.0,2321.0 L1417.2,2320.8 L1423.5,2320.6 L1429.7,2320.4 L1435.9,2320.2 L1442.2,2320.0 L1448.4,2319.7 L1454.7,2319.5 L1460.9,2319.3 L1467.1,2319.1 L1473.4,2318.9 L1479.6,2318.6 L1485.9,2318.4 L1492.1,2318.2 L1498.3,2317.9 L1504.6,2317.7 L1510.8,2317.5 L1517.1,2317.2 L1523.3,2317.0 L1529.5,2316.8 L1535.8,2316.5 L1542.0,2316.3 L1548.2,2316.0 L1554.5,2315.8 L1560.7,2315.5 L1567.0,2315.3 L1573.2,2315.0 L1579.4,2314.7 L1585.7,2314.5 L1591.9,2314.2 L1598.1,2313.9 L1604.4,2313.7 L1610.6,2313.4 L1616.8,2313.1 L1623.1,2312.9 L1629.3,2312.6 L1635.5,2312.3 L1641.8,2312.0 L1648.0,2311.7 L1654.2,2311.5 L1660.5,2311.2 L1666.7,2310.9 L1672.9,2310.6 L1679.1,2310.3 L1685.4,2310.0 L1691.6,2309.7 L1697.8,2309.4 L1704.1,2309.1 L1710.3,2308.8 L1716.5,2308.5 L1722.8,2308.2 L1729.0,2307.9 L1735.2,2307.6 L1741.5,2307.3 L1747.7,2306.9 L1753.9,2306.6 L1760.1,2306.3 L1766.4,2306.0 L1772.6,2305.7 L1778.8,2305.3 L1785.1,2305.0 L1791.3,2304.7 L1797.5,2304.3 L1803.7,2304.0 L1810.0,2303.7 L1816.2,2303.3 L1822.4,2303.0 L1828.7,2302.7 L1834.9,2302.3 L1841.1,2302.0 L1847.3,2301.6 L1853.6,2301.3 L1859.8,2300.9 L1866.0,2300.6 L1872.3,2300.2 L1878.5,2299.9 L1884.7,2299.5 L1890.9,2299.1 L1897.2,2298.8 L1903.4,2298.4 L1909.6,2298.0 L1915.9,2297.7 L1922.1,2297.3 L1928.3,2296.9 L1934.5,2296.6 L1940.8,2296.2 L1947.0,2295.8 L1953.2,2295.4 L1959.5,2295.0 L1965.7,2294.7 L1971.9,2294.3 L1978.1,2293.9 L1984.4,2293.5 L1990.6,2293.1 L1996.8,2292.7 L2003.1,2292.3 L2009.3,2291.9 L2015.5,2291.5 L2021.8,2291.1 L2028.0,2290.7 L2034.2,2290.3 L2040.4,2289.9 L2046.7,2289.5 L2052.9,2289.1 L2059.1,2288.7 L2065.4,2288.3 L2071.6,2287.9 L2077.8,2287.4 L2084.1,2287.0 L2090.3,2286.6 L2096.5,2286.2 L2102.7,2285.8 L2109.0,2285.3 L2115.2,2284.9 L2121.4,2284.5 L2127.7,2284.0 L2133.9,2283.6 L2140.1,2283.2 L2146.4,2282.7 L2152.6,2282.3" stroke="#FF0000" stroke-width="4.5"/>
<path d="M553.0,3672.1 L555.2,3666.3 L557.4,3660.5 L559.6,3654.6 L561.8,3648.8 L564.0,3643.0 L566.2,3637.2 L568.3,3631.4 L570.5,3625.5 L572.7,3619.7 L574.9,3613.9 L577.0,3608.1 L579.2,3602.2 L581.4,3596.4 L583.5,3590.6 L585.7,3584.7 L587.8,3578.9 L590.0,3573.1 L592.1,3567.2 L594.3,3561.4 L596.4,3555.5 L598.5,3549.7 L600.7,3543.9 L602.8,3538.0 L604.9,3532.2 L607.1,3526.3 L609.2,3520.5 L611.3,3514.6 L613.4,3508.8 L615.5,3502.9 L617.6,3497.1 L619.7,3491.2 L621.9,3485.4 L624.0,3479.5 L626.1,3473.7 L628.1,3467.8 L630.2,3462.0 L632.3,3456.1 L634.4,3450.2 L636.5,3444.4 L638.6,3438.5 L640.7,3432.7 L642.7,3426.8 L644.8,3420.9 L646.9,3415.1 L649.0,3409.2 L651.0,3403.3 L653.1,3397.5 L655.2,3391.6 L657.2,3385.7 L659.3,3379.9 L661.3,3374.0 L663.4,3368.1 L665.4,3362.2 L667.5,3356.4 L669.5,3350.5 L671.6,3344.6 L673.6,3338.7 L675.7,3332.9 L677.7,3327.0 L679.7,3321.1 L681.8,3315.2 L683.8,3309.3 L685.8,3303.5 L687.9,3297.6 L689.9,3291.7 L691.9,3285.8 L693.9,3279.9 L696.0,3274.0 L698.0,3268.2 L700.0,3262.3 L702.0,3256.4 L704.0,3250.5 L706.0,3244.6 L708.1,3238.7 L710.1,3232.8 L712.1,3226.9 L714.1,3221.1 L716.1,3215.2 L718.1,3209.3 L720.1,3203.4 L722.1,3197.5 L724.1,3191.6 L726.1,3185.7 L728.1,3179.8 L730.1,3173.9 L732.1,3168.0 L734.0,3162.1 L736.0,3156.2 L738.0,3150.3 L740.0,3144.4 L742.0,3138.5 L744.0,3132.6 L745.9,3126.7 L747.9,3120.8 L749.9,3114.9 L751.9,3109.0 L753.9,3103.1 L755.8,3097.2 L757.8,3091.3 L759.8,3085.4 L761.8,3079.5 L763.7,3073.6 L765.7,3067.7 L767.7,3061.8 L769.6,3055.9 L771.6,3050.0 L773.6,3044.1 L775.5,3038.2 L777.5,3032.3 L779.5,3026.4 L781.4,3020.5 L783.4,3014.6 L785.4,3008.7 L787.3,3002.8 L789.3,2996.9 L791.2,2991.0 L793.2,2985.1 L795.2,2979.2 L797.1,2973.3 L799.1,2967.4 L801.0,2961.5 L803.0,2955.5 L804.9,2949.6 L806.9,2943.7 L808.8,2937.8 L810.8,2931.9 L812.8,2926.0 L814.7,2920.1 L816.7,2914.2 L818.6,2908.3 L820.6,2902.4 L822.5,2896.5 L824.5,2890.6 L826.4,2884.7 L828.4,2878.8 L830.3,2872.9 L832.3,2867.0 L834.2,2861.0 L836.2,2855.1 L838.1,2849.2 L840.1,2843.3 L842.0,2837.4 L844.0,2831.5 L845.9,2825.6 L847.9,2819.7 L849.8,2813.8 L851.8,2807.9 L853.7,2802.0 L855.7,2796.1 L857.6,2790.2 L859.6,2784.3 L861.5,2778.4 L863.5,2772.5 L865.4,2766.6 L867.4,2760.7 L869.3,2754.7 L871.3,2748.8 L873.2,2742.9 L875.2,2737.0 L877.1,2731.1 L879.1,2725.2 L881.1,2719.3 L883.0,2713.4 L885.0,2707.5 L887.0,2701.6 L888.9,2695.8 L890.9,2689.9 L892.9,2684.0 L895.0,2678.1 L897.0,2672.3 L899.1,2666.4 L901.2,2660.5 L903.3,2654.7 L905.4,2648.9 L907.6,2643.1 L909.8,2637.3 L912.0,2631.5 L914.2,2625.7 L916.5,2619.9 L918.9,2614.2 L921.2,2608.4 L923.6,2602.7 L926.1,2597.0 L928.6,2591.3 L931.1,2585.7 L933.7,2580.0 L936.4,2574.4 L939.1,2568.8 L941.8,2563.2 L944.7,2557.7 L947.5,2552.1 L950.5,2546.6 L953.5,2541.2 L956.5,2535.7 L959.6,2530.3 L962.8,2524.9 L966.1,2519.5 L969.4,2514.2 L972.7,2509.0 L976.2,2503.7 L979.6,2498.5 L983.2,2493.4 L986.8,2488.3 L990.5,2483.2 L994.3,2478.2 L998.1,2473.3 L1001.9,2468.4 L1005.9,2463.6 L1009.9,2458.8 L1014.0,2454.1 L1018.1,2449.5 L1022.3,2444.9 L1026.6,2440.4 L1030.9,2435.9 L1035.3,2431.6 L1039.8,2427.3 L1044.3,2423.0 L1049.0,2418.9 L1053.6,2414.8 L1058.4,2410.9 L1063.2,2407.0 L1068.1,2403.1 L1073.0,2399.4 L1078.1,2395.8 L1083.1,2392.3 L1088.3,2388.8 L1093.5,2385.5 L1098.8,2382.2 L1104.2,2379.1 L1109.7,2376.0 L1115.2,2373.1 L1120.7,2370.2 L1126.3,2367.5 L1132.0,2364.9 L1137.7,2362.4 L1143.5,2360.0 L1149.3,2357.8 L1155.1,2355.6 L1161.0,2353.6 L1166.9,2351.8 L1172.9,2350.0 L1178.9,2348.4 L1184.9,2346.9 L1190.9,2345.6 L1196.9,2344.4 L1203.0,2343.3 L1209.1,2342.3 L1215.2,2341.4 L1221.3,2340.6 L1227.5,2340.0 L1233.6,2339.4 L1239.8,2338.8 L1246.0,2338.4 L1252.2,2338.0 L1258.4,2337.7 L1264.6,2337.4 L1270.8,2337.1 L1277.0,2336.9 L1283.2,2336.7 L1289.5,2336.6 L1295.7,2336.4 L1301.9,2336.3 L1308.2,2336.1 L1314.4,2336.0 L1320.6,2335.8 L1326.9,2335.7 L1333.1,2335.5 L1339.3,2335.3 L1345.6,2335.2 L1351.8,2335.0 L1358.0,2334.8 L1364.2,2334.6 L1370.5,2334.4 L1376.7,2334.2 L1382.9,2334.0 L1389.1,2333.8 L1395.4,2333.5 L1401.6,2333.3 L1407.8,2333.1 L1414.0,2332.9 L1420.2,2332.6 L1426.5,2332.4 L1432.7,2332.1 L1438.9,2331.9 L1445.1,2331.6 L1451.3,2331.4 L1457.6,2331.1 L1463.8,2330.9 L1470.0,2330.6 L1476.2,2330.3 L1482.4,2330.0 L1488.6,2329.7 L1494.8,2329.5 L1501.1,2329.2 L1507.3,2328.9 L1513.5,2328.6 L1519.7,2328.3 L1525.9,2328.0 L1532.1,2327.6 L1538.3,2327.3 L1544.5,2327.0 L1550.7,2326.7 L1557.0,2326.4 L1563.2,2326.0 L1569.4,2325.7 L1575.6,2325.4 L1581.8,2325.0 L1588.0,2324.7 L1594.2,2324.3 L1600.4,2324.0 L1606.6,2323.6 L1612.8,2323.3 L1619.0,2322.9 L1625.2,2322.6 L1631.4,2322.2 L1637.6,2321.8 L1643.9,2321.5 L1650.1,2321.1 L1656.3,2320.7 L1662.5,2320.3 L1668.7,2320.0 L1674.9,2319.6 L1681.1,2319.2 L1687.3,2318.8 L1693.5,2318.4 L1699.7,2318.0 L1705.9,2317.6 L1712.1,2317.2 L1718.3,2316.8 L1724.5,2316.4 L1730.7,2316.0 L1736.9,2315.6 L1743.1,2315.2 L1749.3,2314.8 L1755.5,2314.4 L1761.7,2313.9 L1767.9,2313.5 L1774.1,2313.1 L1780.3,2312.7 L1786.5,2312.2 L1792.7,2311.8 L1798.9,2311.4 L1805.1,2311.0 L1811.3,2310.5 L1817.5,2310.1 L1823.7,2309.7 L1829.9,2309.2 L1836.1,2308.8 L1842.3,2308.4 L1848.5,2307.9 L1854.7,2307.5 L1860.9,2307.0 L1867.1,2306.6 L1873.3,2306.1 L1879.5,2305.7 L1885.7,2305.3 L1891.9,2304.8 L1898.1,2304.4 L1904.3,2303.9 L1910.5,2303.5 L1916.7,2303.0 L1922.9,2302.6 L1929.1,2302.1 L1935.3,2301.6 L1941.5,2301.2 L1947.7,2300.7 L1953.9,2300.3 L1960.1,2299.8 L1966.3,2299.4 L1972.6,2298.9 L1978.8,2298.5 L1985.0,2298.0 L1991.2,2297.5 L1997.4,2297.1 L2003.6,2296.6 L2009.8,2296.2 L2016.0,2295.7 L2022.2,2295.2 L2028.4,2294.8 L2034.6,2294.3 L2040.8,2293.9 L2047.0,2293.4 L2053.2,2293.0 L2059.4,2292.5 L2065.6,2292.0 L2071.9,2291.6 L2078.1,2291.1 L2084.3,2290.7 L2090.5,2290.2 L2096.7,2289.8 L2102.9,2289.3 L2109.1,2288.9 L2115.3,2288.4 L2121.5,2287.9 L2127.7,2287.5 L2134.0,2287.0 L2140.2,2286.6 L2146.4,2286.1 L2152.6,2285.7" stroke="#00B050" stroke-width="4.5"/>
<path d="M553.0,3672.1 L555.2,3666.3 L557.5,3660.5 L559.7,3654.7 L561.9,3648.9 L564.2,3643.1 L566.4,3637.3 L568.6,3631.6 L570.8,3625.8 L573.0,3620.0 L575.2,3614.2 L577.4,3608.4 L579.6,3602.6 L581.8,3596.8 L584.0,3591.0 L586.1,3585.1 L588.3,3579.3 L590.5,3573.5 L592.6,3567.7 L594.8,3561.9 L596.9,3556.1 L599.1,3550.3 L601.2,3544.5 L603.3,3538.7 L605.5,3532.9 L607.6,3527.0 L609.7,3521.2 L611.8,3515.4 L614.0,3509.6 L616.1,3503.8 L618.2,3498.0 L620.3,3492.1 L622.4,3486.3 L624.5,3480.5 L626.6,3474.7 L628.7,3468.9 L630.7,3463.0 L632.8,3457.2 L634.9,3451.4 L637.0,3445.6 L639.0,3439.7 L641.1,3433.9 L643.2,3428.1 L645.2,3422.2 L647.3,3416.4 L649.3,3410.6 L651.4,3404.7 L653.4,3398.9 L655.5,3393.1 L657.5,3387.2 L659.5,3381.4 L661.6,3375.6 L663.6,3369.7 L665.6,3363.9 L667.6,3358.1 L669.7,3352.2 L671.7,3346.4 L673.7,3340.5 L675.7,3334.7 L677.7,3328.9 L679.7,3323.0 L681.7,3317.2 L683.7,3311.3 L685.7,3305.5 L687.7,3299.6 L689.7,3293.8 L691.7,3287.9 L693.7,3282.1 L695.7,3276.2 L697.7,3270.4 L699.7,3264.5 L701.7,3258.7 L703.6,3252.8 L705.6,3247.0 L707.6,3241.1 L709.6,3235.3 L711.5,3229.4 L713.5,3223.6 L715.5,3217.7 L717.4,3211.9 L719.4,3206.0 L721.4,3200.2 L723.3,3194.3 L725.3,3188.5 L727.3,3182.6 L729.2,3176.8 L731.2,3170.9 L733.1,3165.0 L735.1,3159.2 L737.0,3153.3 L739.0,3147.5 L740.9,3141.6 L742.9,3135.7 L744.8,3129.9 L746.8,3124.0 L748.7,3118.2 L750.7,3112.3 L752.6,3106.4 L754.6,3100.6 L756.5,3094.7 L758.5,3088.9 L760.4,3083.0 L762.4,3077.1 L764.3,3071.3 L766.2,3065.4 L768.2,3059.5 L770.1,3053.7 L772.1,3047.8 L774.0,3041.9 L775.9,3036.1 L777.9,3030.2 L779.8,3024.4 L781.8,3018.5 L783.7,3012.6 L785.6,3006.8 L787.6,3000.9 L789.5,2995.0 L791.5,2989.2 L793.4,2983.3 L795.4,2977.4 L797.3,2971.6 L799.2,2965.7 L801.2,2959.8 L803.1,2954.0 L805.1,2948.1 L807.0,2942.2 L809.0,2936.4 L810.9,2930.5 L812.9,2924.6 L814.8,2918.7 L816.8,2912.9 L818.7,2907.0 L820.7,2901.1 L822.6,2895.3 L824.6,2889.4 L826.5,2883.5 L828.5,2877.7 L830.4,2871.8 L832.4,2865.9 L834.3,2860.1 L836.3,2854.2 L838.3,2848.3 L840.2,2842.5 L842.2,2836.6 L844.2,2830.7 L846.1,2824.9 L848.1,2819.0 L850.1,2813.1 L852.1,2807.3 L854.0,2801.4 L856.0,2795.5 L858.0,2789.7 L860.0,2783.8 L861.9,2777.9 L863.9,2772.1 L865.9,2766.2 L867.9,2760.3 L869.9,2754.5 L871.9,2748.6 L873.9,2742.7 L875.9,2736.9 L877.9,2731.0 L879.9,2725.1 L881.9,2719.3 L883.9,2713.4 L885.9,2707.5 L888.0,2701.7 L890.0,2695.8 L892.1,2690.0 L894.1,2684.1 L896.2,2678.3 L898.3,2672.5 L900.5,2666.7 L902.6,2660.9 L904.8,2655.1 L907.0,2649.3 L909.2,2643.5 L911.5,2637.8 L913.8,2632.0 L916.1,2626.3 L918.5,2620.6 L920.9,2614.9 L923.3,2609.2 L925.8,2603.6 L928.3,2597.9 L930.9,2592.3 L933.5,2586.7 L936.2,2581.2 L938.9,2575.6 L941.7,2570.1 L944.5,2564.6 L947.4,2559.1 L950.4,2553.7 L953.4,2548.3 L956.4,2542.9 L959.6,2537.6 L962.8,2532.3 L966.0,2527.0 L969.3,2521.8 L972.7,2516.6 L976.2,2511.5 L979.7,2506.4 L983.3,2501.4 L987.0,2496.4 L990.8,2491.5 L994.6,2486.7 L998.5,2481.9 L1002.5,2477.3 L1006.5,2472.6 L1010.6,2468.1 L1014.9,2463.7 L1019.2,2459.3 L1023.5,2455.0 L1028.0,2450.8 L1032.6,2446.7 L1037.2,2442.7 L1041.9,2438.8 L1046.7,2435.0 L1051.7,2431.3 L1056.6,2427.7 L1061.7,2424.2 L1066.9,2420.8 L1072.1,2417.5 L1077.4,2414.3 L1082.8,2411.2 L1088.2,2408.2 L1093.7,2405.2 L1099.2,2402.3 L1104.8,2399.5 L1110.4,2396.8 L1116.0,2394.1 L1121.7,2391.5 L1127.4,2388.9 L1133.1,2386.5 L1138.9,2384.0 L1144.6,2381.7 L1150.4,2379.5 L1156.3,2377.3 L1162.1,2375.2 L1168.0,2373.2 L1173.9,2371.3 L1179.8,2369.5 L1185.8,2367.8 L1191.8,2366.2 L1197.7,2364.8 L1203.7,2363.4 L1209.8,2362.2 L1215.8,2361.0 L1221.9,2360.0 L1227.9,2359.1 L1234.0,2358.3 L1240.1,2357.5 L1246.2,2356.9 L1252.4,2356.3 L1258.5,2355.7 L1264.6,2355.2 L1270.8,2354.8 L1276.9,2354.4 L1283.1,2354.0 L1289.3,2353.7 L1295.4,2353.3 L1301.6,2353.0 L1307.8,2352.7 L1313.9,2352.3 L1320.1,2352.0 L1326.3,2351.7 L1332.4,2351.3 L1338.6,2351.0 L1344.8,2350.6 L1351.0,2350.3 L1357.1,2349.9 L1363.3,2349.5 L1369.5,2349.2 L1375.6,2348.8 L1381.8,2348.4 L1388.0,2348.0 L1394.1,2347.6 L1400.3,2347.2 L1406.5,2346.9 L1412.6,2346.5 L1418.8,2346.1 L1425.0,2345.6 L1431.1,2345.2 L1437.3,2344.8 L1443.5,2344.4 L1449.6,2344.0 L1455.8,2343.6 L1462.0,2343.1 L1468.1,2342.7 L1474.3,2342.3 L1480.5,2341.8 L1486.6,2341.4 L1492.8,2341.0 L1499.0,2340.5 L1505.1,2340.1 L1511.3,2339.6 L1517.5,2339.2 L1523.6,2338.7 L1529.8,2338.3 L1536.0,2337.8 L1542.1,2337.3 L1548.3,2336.9 L1554.5,2336.4 L1560.6,2335.9 L1566.8,2335.5 L1573.0,2335.0 L1579.1,2334.5 L1585.3,2334.1 L1591.5,2333.6 L1597.6,2333.1 L1603.8,2332.6 L1610.0,2332.1 L1616.1,2331.6 L1622.3,2331.2 L1628.5,2330.7 L1634.6,2330.2 L1640.8,2329.7 L1647.0,2329.2 L1653.1,2328.7 L1659.3,2328.2 L1665.5,2327.7 L1671.6,2327.2 L1677.8,2326.7 L1684.0,2326.2 L1690.1,2325.7 L1696.3,2325.2 L1702.5,2324.7 L1708.6,2324.2 L1714.8,2323.7 L1721.0,2323.2 L1727.1,2322.7 L1733.3,2322.2 L1739.5,2321.6 L1745.6,2321.1 L1751.8,2320.6 L1758.0,2320.1 L1764.1,2319.6 L1770.3,2319.1 L1776.5,2318.6 L1782.6,2318.1 L1788.8,2317.6 L1795.0,2317.1 L1801.1,2316.6 L1807.3,2316.1 L1813.5,2315.5 L1819.6,2315.0 L1825.8,2314.5 L1832.0,2314.0 L1838.1,2313.5 L1844.3,2313.0 L1850.4,2312.5 L1856.6,2312.0 L1862.8,2311.5 L1868.9,2311.0 L1875.1,2310.5 L1881.3,2310.0 L1887.4,2309.5 L1893.6,2309.0 L1899.8,2308.5 L1905.9,2308.0 L1912.1,2307.5 L1918.3,2307.0 L1924.4,2306.5 L1930.6,2306.0 L1936.8,2305.5 L1942.9,2305.0 L1949.1,2304.5 L1955.3,2304.0 L1961.4,2303.6 L1967.6,2303.1 L1973.8,2302.6 L1979.9,2302.1 L1986.1,2301.6 L1992.3,2301.2 L1998.4,2300.7 L2004.6,2300.2 L2010.8,2299.8 L2016.9,2299.3 L2023.1,2298.8 L2029.3,2298.4 L2035.4,2297.9 L2041.6,2297.4 L2047.8,2297.0 L2053.9,2296.5 L2060.1,2296.1 L2066.3,2295.6 L2072.4,2295.2 L2078.6,2294.8 L2084.8,2294.3 L2090.9,2293.9 L2097.1,2293.4 L2103.3,2293.0 L2109.4,2292.6 L2115.6,2292.2 L2121.8,2291.7 L2127.9,2291.3 L2134.1,2290.9 L2140.3,2290.5 L2146.4,2290.1 L2152.6,2289.7" stroke="#FFC000" stroke-width="4.5"/>
<path d="M553.0,3672.1 L555.2,3666.3 L557.4,3660.6 L559.6,3654.8 L561.8,3649.0 L564.0,3643.2 L566.2,3637.5 L568.4,3631.7 L570.6,3625.9 L572.8,3620.2 L574.9,3614.4 L577.1,3608.6 L579.3,3602.9 L581.4,3597.1 L583.6,3591.3 L585.7,3585.6 L587.9,3579.8 L590.0,3574.1 L592.1,3568.3 L594.3,3562.5 L596.4,3556.8 L598.5,3551.0 L600.6,3545.2 L602.7,3539.5 L604.9,3533.7 L607.0,3528.0 L609.1,3522.2 L611.2,3516.4 L613.2,3510.7 L615.3,3504.9 L617.4,3499.2 L619.5,3493.4 L621.6,3487.6 L623.7,3481.9 L625.7,3476.1 L627.8,3470.4 L629.9,3464.6 L631.9,3458.9 L634.0,3453.1 L636.0,3447.3 L638.1,3441.6 L640.1,3435.8 L642.2,3430.1 L644.2,3424.3 L646.3,3418.6 L648.3,3412.8 L650.3,3407.0 L652.3,3401.3 L654.4,3395.5 L656.4,3389.8 L658.4,3384.0 L660.4,3378.3 L662.4,3372.5 L664.4,3366.8 L666.5,3361.0 L668.5,3355.2 L670.5,3349.5 L672.5,3343.7 L674.5,3338.0 L676.5,3332.2 L678.4,3326.5 L680.4,3320.7 L682.4,3314.9 L684.4,3309.2 L686.4,3303.4 L688.4,3297.7 L690.3,3291.9 L692.3,3286.2 L694.3,3280.4 L696.3,3274.6 L698.2,3268.9 L700.2,3263.1 L702.2,3257.4 L704.1,3251.6 L706.1,3245.8 L708.1,3240.1 L710.0,3234.3 L712.0,3228.6 L713.9,3222.8 L715.9,3217.0 L717.8,3211.3 L719.8,3205.5 L721.7,3199.8 L723.7,3194.0 L725.6,3188.2 L727.6,3182.5 L729.5,3176.7 L731.4,3170.9 L733.4,3165.2 L735.3,3159.4 L737.3,3153.6 L739.2,3147.9 L741.1,3142.1 L743.1,3136.3 L745.0,3130.6 L746.9,3124.8 L748.9,3119.0 L750.8,3113.3 L752.7,3107.5 L754.6,3101.7 L756.6,3096.0 L758.5,3090.2 L760.4,3084.4 L762.4,3078.6 L764.3,3072.9 L766.2,3067.1 L768.1,3061.3 L770.1,3055.5 L772.0,3049.8 L773.9,3044.0 L775.8,3038.2 L777.7,3032.4 L779.7,3026.7 L781.6,3020.9 L783.5,3015.1 L785.4,3009.3 L787.4,3003.5 L789.3,2997.7 L791.2,2992.0 L793.1,2986.2 L795.0,2980.4 L797.0,2974.6 L798.9,2968.8 L800.8,2963.0 L802.7,2957.2 L804.7,2951.5 L806.6,2945.7 L808.5,2939.9 L810.4,2934.1 L812.4,2928.3 L814.3,2922.5 L816.2,2916.7 L818.1,2910.9 L820.1,2905.1 L822.0,2899.3 L823.9,2893.5 L825.9,2887.7 L827.8,2881.9 L829.7,2876.1 L831.7,2870.3 L833.6,2864.5 L835.5,2858.7 L837.5,2852.9 L839.4,2847.1 L841.3,2841.2 L843.3,2835.4 L845.2,2829.6 L847.2,2823.8 L849.1,2818.0 L851.1,2812.2 L853.0,2806.4 L855.0,2800.5 L856.9,2794.7 L858.9,2788.9 L860.8,2783.1 L862.8,2777.3 L864.7,2771.4 L866.7,2765.6 L868.6,2759.8 L870.6,2754.0 L872.6,2748.1 L874.5,2742.3 L876.5,2736.5 L878.5,2730.6 L880.5,2724.8 L882.4,2719.0 L884.4,2713.1 L886.4,2707.3 L888.4,2701.5 L890.5,2695.7 L892.5,2689.8 L894.6,2684.1 L896.7,2678.3 L898.8,2672.5 L901.0,2666.7 L903.2,2661.0 L905.4,2655.3 L907.7,2649.6 L910.0,2643.9 L912.4,2638.3 L914.8,2632.7 L917.3,2627.1 L919.8,2621.5 L922.4,2616.0 L925.1,2610.5 L927.8,2605.0 L930.6,2599.6 L933.5,2594.2 L936.4,2588.8 L939.4,2583.5 L942.6,2578.3 L945.7,2573.1 L949.0,2567.9 L952.4,2562.8 L955.8,2557.8 L959.3,2552.8 L962.9,2547.8 L966.5,2543.0 L970.3,2538.2 L974.1,2533.5 L978.0,2528.8 L982.0,2524.3 L986.1,2519.8 L990.2,2515.4 L994.5,2511.1 L998.8,2506.8 L1003.2,2502.7 L1007.7,2498.7 L1012.3,2494.7 L1016.9,2490.9 L1021.6,2487.1 L1026.4,2483.5 L1031.3,2480.0 L1036.3,2476.6 L1041.4,2473.3 L1046.5,2470.1 L1051.7,2467.0 L1057.0,2464.1 L1062.4,2461.2 L1067.8,2458.4 L1073.2,2455.7 L1078.8,2453.1 L1084.3,2450.6 L1090.0,2448.2 L1095.6,2445.8 L1101.3,2443.5 L1107.1,2441.3 L1112.8,2439.1 L1118.6,2437.0 L1124.4,2435.0 L1130.2,2433.0 L1136.1,2431.0 L1141.9,2429.1 L1147.8,2427.2 L1153.7,2425.4 L1159.6,2423.6 L1165.4,2421.9 L1171.3,2420.2 L1177.2,2418.5 L1183.2,2416.9 L1189.1,2415.3 L1195.0,2413.8 L1200.9,2412.2 L1206.9,2410.7 L1212.8,2409.3 L1218.8,2407.9 L1224.7,2406.5 L1230.7,2405.1 L1236.6,2403.8 L1242.6,2402.5 L1248.6,2401.2 L1254.6,2400.0 L1260.5,2398.8 L1266.5,2397.6 L1272.5,2396.4 L1278.5,2395.3 L1284.5,2394.2 L1290.5,2393.1 L1296.6,2392.0 L1302.6,2391.0 L1308.6,2390.0 L1314.6,2389.0 L1320.6,2388.0 L1326.7,2387.0 L1332.7,2386.1 L1338.7,2385.1 L1344.7,2384.2 L1350.8,2383.3 L1356.8,2382.4 L1362.9,2381.6 L1368.9,2380.7 L1374.9,2379.9 L1381.0,2379.0 L1387.0,2378.2 L1393.1,2377.4 L1399.1,2376.6 L1405.2,2375.8 L1411.2,2375.0 L1417.3,2374.3 L1423.3,2373.5 L1429.4,2372.7 L1435.4,2371.9 L1441.5,2371.2 L1447.6,2370.4 L1453.6,2369.7 L1459.7,2368.9 L1465.7,2368.2 L1471.8,2367.4 L1477.8,2366.6 L1483.9,2365.9 L1490.0,2365.2 L1496.0,2364.4 L1502.1,2363.7 L1508.2,2362.9 L1514.2,2362.2 L1520.3,2361.4 L1526.3,2360.7 L1532.4,2359.9 L1538.5,2359.2 L1544.5,2358.5 L1550.6,2357.7 L1556.7,2357.0 L1562.7,2356.3 L1568.8,2355.6 L1574.9,2354.8 L1580.9,2354.1 L1587.0,2353.4 L1593.1,2352.7 L1599.2,2351.9 L1605.2,2351.2 L1611.3,2350.5 L1617.4,2349.8 L1623.4,2349.1 L1629.5,2348.4 L1635.6,2347.6 L1641.7,2346.9 L1647.7,2346.2 L1653.8,2345.5 L1659.9,2344.8 L1666.0,2344.1 L1672.0,2343.4 L1678.1,2342.7 L1684.2,2342.0 L1690.3,2341.3 L1696.3,2340.6 L1702.4,2340.0 L1708.5,2339.3 L1714.6,2338.6 L1720.6,2337.9 L1726.7,2337.2 L1732.8,2336.5 L1738.9,2335.9 L1745.0,2335.2 L1751.0,2334.5 L1757.1,2333.9 L1763.2,2333.2 L1769.3,2332.5 L1775.4,2331.9 L1781.4,2331.2 L1787.5,2330.5 L1793.6,2329.9 L1799.7,2329.2 L1805.8,2328.6 L1811.8,2327.9 L1817.9,2327.3 L1824.0,2326.6 L1830.1,2326.0 L1836.2,2325.3 L1842.3,2324.7 L1848.3,2324.1 L1854.4,2323.4 L1860.5,2322.8 L1866.6,2322.2 L1872.7,2321.5 L1878.8,2320.9 L1884.8,2320.3 L1890.9,2319.7 L1897.0,2319.1 L1903.1,2318.4 L1909.2,2317.8 L1915.3,2317.2 L1921.3,2316.6 L1927.4,2316.0 L1933.5,2315.4 L1939.6,2314.8 L1945.7,2314.2 L1951.8,2313.6 L1957.9,2313.0 L1963.9,2312.4 L1970.0,2311.9 L1976.1,2311.3 L1982.2,2310.7 L1988.3,2310.1 L1994.4,2309.5 L2000.5,2309.0 L2006.5,2308.4 L2012.6,2307.8 L2018.7,2307.3 L2024.8,2306.7 L2030.9,2306.1 L2037.0,2305.6 L2043.1,2305.0 L2049.1,2304.5 L2055.2,2303.9 L2061.3,2303.4 L2067.4,2302.9 L2073.5,2302.3 L2079.6,2301.8 L2085.7,2301.3 L2091.7,2300.7 L2097.8,2300.2 L2103.9,2299.7 L2110.0,2299.2 L2116.1,2298.6 L2122.2,2298.1 L2128.3,2297.6 L2134.3,2297.1 L2140.4,2296.6 L2146.5,2296.1 L2152.6,2295.6" stroke="#0000D6" stroke-width="4.5"/>
</g>
<path d="M553,2217.4 L2152.5,2217.4 L2152.5,3672.1 L553,3672.1 Z" fill="none" stroke="#000" stroke-width="4"/>
<rect x="1193.3" y="2721.4" width="760.3" height="727.4000000000001" fill="#fff"/>
<line x1="1193.3" y1="2963.8" x2="1953.6" y2="2963.8" stroke="#D9D9D9" stroke-width="3.5" />
<line x1="1193.3" y1="3206.3" x2="1953.6" y2="3206.3" stroke="#D9D9D9" stroke-width="3.5" />
<line x1="1573.5" y1="2721.4" x2="1573.5" y2="3448.8" stroke="#D9D9D9" stroke-width="3.5" />
<line x1="1193.3" y1="2963.8" x2="1215.3" y2="2963.8" stroke="#5A5A5A" stroke-width="4" />
<line x1="1193.3" y1="3206.3" x2="1215.3" y2="3206.3" stroke="#5A5A5A" stroke-width="4" />
<line x1="1573.5" y1="3448.8" x2="1573.5" y2="3424.8" stroke="#000" stroke-width="4.5" />
<clipPath id="cpi"><rect x="1193.3" y="2721.4" width="760.3" height="727.4000000000001"/></clipPath>
<g clip-path="url(#cpi)" fill="none" stroke-linejoin="round">
<path d="M1207.0,3449.0 L1208.2,3445.7 L1209.3,3442.4 L1210.5,3439.1 L1211.6,3435.8 L1212.7,3432.5 L1213.7,3429.2 L1214.8,3425.8 L1215.8,3422.5 L1216.8,3419.2 L1217.8,3415.9 L1218.7,3412.5 L1219.7,3409.2 L1220.6,3405.9 L1221.5,3402.5 L1222.4,3399.2 L1223.3,3395.8 L1224.2,3392.5 L1225.0,3389.1 L1225.8,3385.8 L1226.7,3382.4 L1227.5,3379.1 L1228.3,3375.7 L1229.0,3372.3 L1229.8,3369.0 L1230.6,3365.6 L1231.3,3362.2 L1232.1,3358.9 L1232.8,3355.5 L1233.6,3352.1 L1234.3,3348.7 L1235.0,3345.3 L1235.7,3342.0 L1236.4,3338.6 L1237.1,3335.2 L1237.8,3331.8 L1238.5,3328.4 L1239.2,3325.0 L1239.9,3321.6 L1240.6,3318.3 L1241.2,3314.9 L1241.9,3311.5 L1242.6,3308.1 L1243.3,3304.7 L1244.0,3301.3 L1244.7,3297.9 L1245.4,3294.5 L1246.1,3291.1 L1246.8,3287.7 L1247.5,3284.3 L1248.2,3280.9 L1248.9,3277.5 L1249.6,3274.1 L1250.3,3270.7 L1251.1,3267.3 L1251.8,3263.9 L1252.6,3260.5 L1253.3,3257.1 L1254.1,3253.7 L1254.9,3250.3 L1255.7,3246.9 L1256.5,3243.5 L1257.3,3240.1 L1258.2,3236.7 L1259.0,3233.4 L1259.9,3230.0 L1260.7,3226.6 L1261.6,3223.2 L1262.6,3219.8 L1263.5,3216.4 L1264.4,3213.0 L1265.4,3209.6 L1266.4,3206.3 L1267.4,3202.9 L1268.4,3199.5 L1269.4,3196.1 L1270.5,3192.7 L1271.6,3189.4 L1272.7,3186.0 L1273.8,3182.6 L1275.0,3179.3 L1276.1,3175.9 L1277.3,3172.5 L1278.6,3169.2 L1279.8,3165.9 L1281.1,3162.5 L1282.4,3159.2 L1283.7,3155.9 L1285.1,3152.6 L1286.5,3149.4 L1287.9,3146.1 L1289.4,3142.9 L1290.8,3139.7 L1292.3,3136.5 L1293.9,3133.3 L1295.4,3130.2 L1297.0,3127.1 L1298.7,3124.0 L1300.3,3120.9 L1302.0,3117.9 L1303.8,3114.9 L1305.5,3111.9 L1307.3,3109.0 L1309.2,3106.0 L1311.0,3103.2 L1312.9,3100.3 L1314.9,3097.5 L1316.9,3094.8 L1318.9,3092.1 L1320.9,3089.4 L1323.0,3086.7 L1325.2,3084.1 L1327.3,3081.6 L1329.6,3079.1 L1331.8,3076.6 L1334.1,3074.2 L1336.4,3071.9 L1338.8,3069.6 L1341.2,3067.3 L1343.7,3065.1 L1346.2,3063.0 L1348.8,3060.9 L1351.4,3058.9 L1354.0,3056.9 L1356.7,3055.0 L1359.4,3053.2 L1362.2,3051.4 L1365.1,3049.7 L1367.9,3048.0 L1370.8,3046.4 L1373.8,3044.9 L1376.8,3043.4 L1379.8,3042.0 L1382.8,3040.6 L1385.9,3039.3 L1389.1,3038.1 L1392.2,3036.9 L1395.4,3035.8 L1398.6,3034.7 L1401.8,3033.7 L1405.1,3032.8 L1408.3,3031.9 L1411.6,3031.0 L1415.0,3030.2 L1418.3,3029.5 L1421.6,3028.8 L1425.0,3028.2 L1428.4,3027.6 L1431.8,3027.0 L1435.2,3026.5 L1438.7,3026.1 L1442.1,3025.6 L1445.6,3025.3 L1449.1,3024.9 L1452.5,3024.6 L1456.1,3024.3 L1459.6,3024.1 L1463.1,3023.9 L1466.6,3023.7 L1470.2,3023.6 L1473.7,3023.4 L1477.3,3023.3 L1480.8,3023.3 L1484.4,3023.2 L1488.0,3023.2 L1491.6,3023.1 L1495.2,3023.1 L1498.8,3023.2 L1502.4,3023.2 L1505.9,3023.2 L1509.5,3023.3 L1513.1,3023.3 L1516.7,3023.4 L1520.3,3023.5 L1523.9,3023.5 L1527.5,3023.6 L1531.1,3023.7 L1534.7,3023.8 L1538.3,3023.8 L1541.9,3023.9 L1545.5,3024.0 L1549.1,3024.0 L1552.6,3024.1 L1556.2,3024.1 L1559.7,3024.2 L1563.3,3024.2 L1566.8,3024.2 L1570.3,3024.1 L1573.8,3024.1 L1577.3,3024.0 L1580.8,3024.0 L1584.3,3023.9 L1587.8,3023.8 L1591.3,3023.6 L1594.7,3023.5 L1598.2,3023.3 L1601.6,3023.2 L1605.0,3023.0 L1608.5,3022.8 L1611.9,3022.5 L1615.3,3022.3 L1618.7,3022.1 L1622.1,3021.8 L1625.5,3021.5 L1628.9,3021.2 L1632.3,3020.9 L1635.7,3020.6 L1639.1,3020.3 L1642.5,3020.0 L1645.8,3019.7 L1649.2,3019.3 L1652.6,3019.0 L1656.0,3018.6 L1659.4,3018.2 L1662.7,3017.9 L1666.1,3017.5 L1669.5,3017.1 L1672.9,3016.7 L1676.3,3016.3 L1679.7,3015.9 L1683.0,3015.5 L1686.4,3015.1 L1689.8,3014.7 L1693.2,3014.2 L1696.6,3013.8 L1700.0,3013.4 L1703.4,3013.0 L1706.9,3012.5 L1710.3,3012.1 L1713.7,3011.7 L1717.1,3011.3 L1720.5,3010.8 L1723.9,3010.4 L1727.4,3010.0 L1730.8,3009.5 L1734.2,3009.1 L1737.7,3008.6 L1741.1,3008.2 L1744.5,3007.8 L1748.0,3007.3 L1751.4,3006.9 L1754.9,3006.5 L1758.3,3006.1 L1761.8,3005.6 L1765.2,3005.2 L1768.7,3004.8 L1772.1,3004.4 L1775.6,3003.9 L1779.0,3003.5 L1782.5,3003.1 L1785.9,3002.7 L1789.4,3002.3 L1792.9,3001.9 L1796.3,3001.5 L1799.8,3001.1 L1803.3,3000.7 L1806.7,3000.4 L1810.2,3000.0 L1813.7,2999.6 L1817.1,2999.2 L1820.6,2998.9 L1824.1,2998.5 L1827.6,2998.2 L1831.0,2997.8 L1834.5,2997.5 L1838.0,2997.2 L1841.5,2996.9 L1844.9,2996.6 L1848.4,2996.3 L1851.9,2996.0 L1855.4,2995.7 L1858.8,2995.4 L1862.3,2995.1 L1865.8,2994.9 L1869.3,2994.6 L1872.7,2994.4 L1876.2,2994.2 L1879.7,2993.9 L1883.2,2993.7 L1886.6,2993.5 L1890.1,2993.4 L1893.6,2993.2 L1897.1,2993.0 L1900.5,2992.9 L1904.0,2992.7 L1907.5,2992.6 L1911.0,2992.5 L1914.4,2992.4 L1917.9,2992.3 L1921.4,2992.2 L1924.8,2992.1 L1928.3,2992.1 L1931.8,2992.1 L1935.2,2992.0 L1938.7,2992.0 L1942.2,2992.0 L1945.6,2992.0 L1949.1,2992.1 L1952.5,2992.1 L1956.0,2992.2" stroke="#000" stroke-width="8" stroke-dasharray="21 34" stroke-linecap="round"/>
<path d="M1193.5,3396.0 L1194.3,3392.3 L1195.1,3388.6 L1195.9,3384.9 L1196.7,3381.2 L1197.6,3377.5 L1198.4,3373.8 L1199.2,3370.1 L1200.0,3366.4 L1200.8,3362.7 L1201.7,3359.0 L1202.5,3355.3 L1203.3,3351.6 L1204.1,3347.9 L1205.0,3344.1 L1205.8,3340.4 L1206.7,3336.7 L1207.5,3333.0 L1208.4,3329.3 L1209.2,3325.5 L1210.1,3321.8 L1210.9,3318.1 L1211.8,3314.4 L1212.7,3310.6 L1213.5,3306.9 L1214.4,3303.2 L1215.3,3299.5 L1216.2,3295.7 L1217.1,3292.0 L1218.0,3288.3 L1218.9,3284.6 L1219.8,3280.9 L1220.7,3277.1 L1221.7,3273.4 L1222.6,3269.7 L1223.5,3266.0 L1224.5,3262.3 L1225.4,3258.6 L1226.4,3254.8 L1227.4,3251.1 L1228.3,3247.4 L1229.3,3243.7 L1230.3,3240.0 L1231.3,3236.3 L1232.3,3232.6 L1233.3,3228.9 L1234.4,3225.3 L1235.4,3221.6 L1236.4,3217.9 L1237.5,3214.2 L1238.5,3210.5 L1239.6,3206.9 L1240.7,3203.2 L1241.7,3199.5 L1242.8,3195.9 L1243.9,3192.2 L1245.1,3188.6 L1246.2,3184.9 L1247.3,3181.3 L1248.5,3177.7 L1249.6,3174.0 L1250.8,3170.4 L1252.0,3166.8 L1253.1,3163.2 L1254.3,3159.6 L1255.6,3156.0 L1256.8,3152.4 L1258.0,3148.8 L1259.3,3145.2 L1260.5,3141.6 L1261.8,3138.0 L1263.1,3134.5 L1264.4,3130.9 L1265.7,3127.4 L1267.0,3123.8 L1268.3,3120.3 L1269.7,3116.8 L1271.0,3113.3 L1272.4,3109.7 L1273.8,3106.2 L1275.2,3102.7 L1276.6,3099.2 L1278.0,3095.8 L1279.4,3092.3 L1280.9,3088.8 L1282.3,3085.3 L1283.8,3081.9 L1285.3,3078.4 L1286.7,3074.9 L1288.2,3071.5 L1289.8,3068.0 L1291.3,3064.6 L1292.8,3061.1 L1294.3,3057.7 L1295.9,3054.2 L1297.5,3050.8 L1299.0,3047.3 L1300.6,3043.9 L1302.2,3040.5 L1303.8,3037.0 L1305.4,3033.6 L1307.0,3030.1 L1308.7,3026.7 L1310.3,3023.3 L1311.9,3019.8 L1313.6,3016.4 L1315.2,3012.9 L1316.9,3009.5 L1318.6,3006.0 L1320.3,3002.6 L1322.0,2999.1 L1323.7,2995.7 L1325.4,2992.2 L1327.1,2988.8 L1328.8,2985.3 L1330.5,2981.8 L1332.3,2978.3 L1334.0,2974.9 L1335.8,2971.4 L1337.5,2967.9 L1339.3,2964.4 L1341.0,2960.9 L1342.8,2957.4 L1344.6,2953.9 L1346.4,2950.4 L1348.2,2946.9 L1350.0,2943.4 L1351.8,2939.9 L1353.7,2936.4 L1355.6,2933.0 L1357.5,2929.5 L1359.4,2926.1 L1361.3,2922.7 L1363.3,2919.3 L1365.3,2916.0 L1367.3,2912.7 L1369.4,2909.4 L1371.5,2906.2 L1373.6,2903.0 L1375.8,2899.8 L1378.0,2896.7 L1380.3,2893.7 L1382.6,2890.7 L1384.9,2887.7 L1387.3,2884.8 L1389.7,2882.0 L1392.2,2879.2 L1394.8,2876.5 L1397.4,2873.8 L1400.0,2871.3 L1402.7,2868.8 L1405.5,2866.4 L1408.3,2864.0 L1411.2,2861.7 L1414.2,2859.5 L1417.2,2857.4 L1420.2,2855.4 L1423.3,2853.4 L1426.5,2851.5 L1429.7,2849.7 L1432.9,2848.0 L1436.2,2846.3 L1439.5,2844.7 L1442.9,2843.2 L1446.3,2841.7 L1449.7,2840.3 L1453.2,2839.0 L1456.7,2837.8 L1460.2,2836.6 L1463.8,2835.5 L1467.4,2834.5 L1471.0,2833.5 L1474.7,2832.7 L1478.4,2831.8 L1482.1,2831.1 L1485.8,2830.4 L1489.5,2829.8 L1493.2,2829.2 L1497.0,2828.8 L1500.8,2828.3 L1504.6,2827.9 L1508.4,2827.6 L1512.2,2827.3 L1516.0,2827.1 L1519.9,2826.8 L1523.7,2826.7 L1527.6,2826.5 L1531.4,2826.4 L1535.3,2826.3 L1539.1,2826.2 L1543.0,2826.1 L1546.9,2826.0 L1550.8,2826.0 L1554.6,2825.9 L1558.5,2825.8 L1562.4,2825.8 L1566.3,2825.7 L1570.1,2825.6 L1574.0,2825.5 L1577.9,2825.4 L1581.7,2825.2 L1585.5,2825.0 L1589.4,2824.8 L1593.2,2824.6 L1597.0,2824.3 L1600.8,2824.0 L1604.6,2823.7 L1608.4,2823.3 L1612.2,2822.9 L1616.0,2822.5 L1619.8,2822.1 L1623.5,2821.6 L1627.3,2821.2 L1631.1,2820.7 L1634.8,2820.2 L1638.6,2819.7 L1642.3,2819.2 L1646.1,2818.7 L1649.8,2818.1 L1653.6,2817.6 L1657.3,2817.1 L1661.1,2816.6 L1664.8,2816.0 L1668.6,2815.5 L1672.3,2815.0 L1676.1,2814.5 L1679.8,2814.0 L1683.6,2813.5 L1687.3,2813.0 L1691.1,2812.5 L1694.9,2812.0 L1698.6,2811.5 L1702.4,2811.0 L1706.2,2810.6 L1709.9,2810.1 L1713.7,2809.7 L1717.5,2809.2 L1721.3,2808.8 L1725.0,2808.3 L1728.8,2807.9 L1732.6,2807.5 L1736.4,2807.0 L1740.1,2806.6 L1743.9,2806.2 L1747.7,2805.8 L1751.5,2805.4 L1755.3,2805.0 L1759.1,2804.6 L1762.9,2804.2 L1766.7,2803.8 L1770.5,2803.4 L1774.2,2803.1 L1778.0,2802.7 L1781.8,2802.3 L1785.6,2802.0 L1789.4,2801.6 L1793.2,2801.3 L1797.0,2800.9 L1800.8,2800.6 L1804.6,2800.2 L1808.4,2799.9 L1812.2,2799.5 L1816.0,2799.2 L1819.8,2798.8 L1823.6,2798.5 L1827.4,2798.1 L1831.2,2797.7 L1835.1,2797.4 L1838.9,2797.0 L1842.7,2796.6 L1846.5,2796.3 L1850.3,2795.9 L1854.1,2795.5 L1857.8,2795.1 L1861.6,2794.7 L1865.4,2794.3 L1869.2,2793.9 L1873.0,2793.5 L1876.8,2793.0 L1880.6,2792.6 L1884.4,2792.1 L1888.2,2791.6 L1892.0,2791.2 L1895.7,2790.7 L1899.5,2790.2 L1903.3,2789.6 L1907.1,2789.1 L1910.9,2788.6 L1914.6,2788.0 L1918.4,2787.4 L1922.2,2786.8 L1925.9,2786.2 L1929.7,2785.6 L1933.4,2784.9 L1937.2,2784.2 L1940.9,2783.6 L1944.7,2782.8 L1948.4,2782.1 L1952.2,2781.4 L1955.9,2780.6" stroke="#FF0000" stroke-width="4.5"/>
<path d="M1193.9,3430.6 L1194.4,3426.7 L1194.9,3422.9 L1195.4,3419.0 L1196.0,3415.2 L1196.5,3411.3 L1197.1,3407.5 L1197.7,3403.7 L1198.3,3399.8 L1198.9,3396.0 L1199.5,3392.2 L1200.2,3388.4 L1200.8,3384.6 L1201.5,3380.8 L1202.2,3377.0 L1202.9,3373.2 L1203.6,3369.5 L1204.3,3365.7 L1205.0,3361.9 L1205.8,3358.2 L1206.6,3354.4 L1207.3,3350.6 L1208.1,3346.9 L1208.9,3343.1 L1209.8,3339.4 L1210.6,3335.7 L1211.4,3331.9 L1212.3,3328.2 L1213.1,3324.5 L1214.0,3320.8 L1214.9,3317.1 L1215.8,3313.3 L1216.7,3309.6 L1217.7,3305.9 L1218.6,3302.2 L1219.5,3298.5 L1220.5,3294.8 L1221.5,3291.2 L1222.5,3287.5 L1223.4,3283.8 L1224.4,3280.1 L1225.5,3276.4 L1226.5,3272.7 L1227.5,3269.1 L1228.6,3265.4 L1229.6,3261.7 L1230.7,3258.1 L1231.7,3254.4 L1232.8,3250.7 L1233.9,3247.1 L1235.0,3243.4 L1236.1,3239.8 L1237.3,3236.1 L1238.4,3232.5 L1239.5,3228.8 L1240.7,3225.2 L1241.8,3221.5 L1243.0,3217.9 L1244.1,3214.2 L1245.3,3210.6 L1246.5,3206.9 L1247.7,3203.3 L1248.9,3199.7 L1250.1,3196.0 L1251.3,3192.4 L1252.6,3188.7 L1253.8,3185.1 L1255.0,3181.5 L1256.3,3177.8 L1257.5,3174.2 L1258.8,3170.6 L1260.1,3166.9 L1261.3,3163.3 L1262.6,3159.6 L1263.9,3156.0 L1265.2,3152.4 L1266.5,3148.7 L1267.8,3145.1 L1269.1,3141.5 L1270.5,3137.8 L1271.8,3134.2 L1273.1,3130.6 L1274.5,3127.0 L1275.9,3123.4 L1277.2,3119.7 L1278.6,3116.1 L1280.0,3112.5 L1281.4,3108.9 L1282.8,3105.3 L1284.3,3101.7 L1285.7,3098.1 L1287.2,3094.5 L1288.6,3091.0 L1290.1,3087.4 L1291.6,3083.8 L1293.1,3080.3 L1294.6,3076.7 L1296.1,3073.1 L1297.7,3069.6 L1299.2,3066.1 L1300.8,3062.5 L1302.4,3059.0 L1304.0,3055.5 L1305.6,3052.0 L1307.2,3048.5 L1308.8,3045.0 L1310.5,3041.5 L1312.2,3038.0 L1313.9,3034.6 L1315.6,3031.1 L1317.3,3027.7 L1319.0,3024.3 L1320.8,3020.8 L1322.5,3017.4 L1324.3,3014.0 L1326.1,3010.6 L1328.0,3007.3 L1329.8,3003.9 L1331.7,3000.5 L1333.6,2997.2 L1335.5,2993.9 L1337.4,2990.5 L1339.3,2987.2 L1341.3,2983.9 L1343.3,2980.7 L1345.3,2977.4 L1347.3,2974.1 L1349.3,2970.9 L1351.4,2967.7 L1353.5,2964.5 L1355.6,2961.3 L1357.7,2958.1 L1359.9,2954.9 L1362.1,2951.8 L1364.3,2948.7 L1366.5,2945.6 L1368.7,2942.5 L1371.0,2939.4 L1373.3,2936.3 L1375.6,2933.3 L1377.9,2930.2 L1380.3,2927.2 L1382.7,2924.2 L1385.1,2921.2 L1387.5,2918.3 L1390.0,2915.3 L1392.5,2912.4 L1395.0,2909.5 L1397.6,2906.6 L1400.1,2903.8 L1402.7,2900.9 L1405.4,2898.2 L1408.0,2895.4 L1410.7,2892.7 L1413.5,2890.0 L1416.3,2887.5 L1419.1,2885.0 L1422.0,2882.6 L1425.0,2880.2 L1428.0,2878.0 L1431.1,2875.9 L1434.2,2873.9 L1437.4,2872.0 L1440.7,2870.2 L1444.0,2868.6 L1447.4,2867.1 L1450.9,2865.7 L1454.4,2864.4 L1458.0,2863.3 L1461.6,2862.2 L1465.2,2861.3 L1468.9,2860.4 L1472.6,2859.6 L1476.4,2859.0 L1480.2,2858.4 L1484.0,2857.9 L1487.8,2857.4 L1491.6,2857.0 L1495.4,2856.7 L1499.2,2856.5 L1503.1,2856.3 L1507.0,2856.2 L1510.8,2856.1 L1514.7,2856.1 L1518.6,2856.1 L1522.5,2856.1 L1526.4,2856.1 L1530.3,2856.2 L1534.2,2856.3 L1538.1,2856.5 L1542.0,2856.6 L1546.0,2856.7 L1549.9,2856.9 L1553.8,2857.0 L1557.7,2857.2 L1561.6,2857.3 L1565.5,2857.4 L1569.4,2857.5 L1573.3,2857.6 L1577.2,2857.6 L1581.1,2857.6 L1585.0,2857.6 L1588.9,2857.5 L1592.7,2857.3 L1596.6,2857.2 L1600.4,2857.0 L1604.3,2856.7 L1608.1,2856.4 L1611.9,2856.1 L1615.8,2855.7 L1619.6,2855.3 L1623.4,2854.9 L1627.2,2854.4 L1631.0,2853.9 L1634.8,2853.3 L1638.5,2852.8 L1642.3,2852.2 L1646.1,2851.5 L1649.9,2850.9 L1653.6,2850.2 L1657.4,2849.5 L1661.2,2848.8 L1664.9,2848.1 L1668.7,2847.3 L1672.4,2846.5 L1676.1,2845.8 L1679.9,2845.0 L1683.6,2844.1 L1687.4,2843.3 L1691.1,2842.5 L1694.8,2841.6 L1698.6,2840.8 L1702.3,2839.9 L1706.0,2839.1 L1709.8,2838.2 L1713.5,2837.3 L1717.3,2836.4 L1721.0,2835.6 L1724.7,2834.7 L1728.5,2833.8 L1732.2,2833.0 L1735.9,2832.1 L1739.7,2831.3 L1743.4,2830.5 L1747.2,2829.6 L1750.9,2828.8 L1754.7,2828.0 L1758.5,2827.2 L1762.2,2826.5 L1766.0,2825.7 L1769.8,2825.0 L1773.5,2824.2 L1777.3,2823.5 L1781.1,2822.9 L1784.9,2822.2 L1788.7,2821.6 L1792.5,2821.0 L1796.3,2820.4 L1800.1,2819.8 L1803.9,2819.3 L1807.7,2818.7 L1811.5,2818.2 L1815.4,2817.7 L1819.2,2817.2 L1823.0,2816.7 L1826.8,2816.2 L1830.7,2815.7 L1834.5,2815.2 L1838.3,2814.8 L1842.2,2814.3 L1846.0,2813.8 L1849.8,2813.4 L1853.7,2812.9 L1857.5,2812.4 L1861.3,2812.0 L1865.2,2811.5 L1869.0,2811.0 L1872.8,2810.5 L1876.6,2810.0 L1880.5,2809.5 L1884.3,2809.0 L1888.1,2808.5 L1891.9,2807.9 L1895.7,2807.4 L1899.5,2806.8 L1903.3,2806.2 L1907.1,2805.6 L1910.9,2804.9 L1914.7,2804.3 L1918.5,2803.6 L1922.3,2802.9 L1926.0,2802.2 L1929.8,2801.4 L1933.5,2800.6 L1937.3,2799.8 L1941.0,2798.9 L1944.8,2798.1 L1948.5,2797.1 L1952.2,2796.2 L1955.9,2795.2" stroke="#00B050" stroke-width="4.5"/>
<path d="M1193.9,3447.8 L1194.5,3444.1 L1195.1,3440.4 L1195.7,3436.7 L1196.3,3432.9 L1196.9,3429.2 L1197.6,3425.5 L1198.2,3421.8 L1198.9,3418.2 L1199.6,3414.5 L1200.3,3410.8 L1201.0,3407.1 L1201.7,3403.4 L1202.5,3399.8 L1203.2,3396.1 L1204.0,3392.4 L1204.7,3388.8 L1205.5,3385.1 L1206.3,3381.5 L1207.1,3377.8 L1208.0,3374.2 L1208.8,3370.5 L1209.6,3366.9 L1210.5,3363.3 L1211.4,3359.6 L1212.2,3356.0 L1213.1,3352.4 L1214.0,3348.8 L1215.0,3345.2 L1215.9,3341.6 L1216.8,3338.0 L1217.8,3334.4 L1218.8,3330.8 L1219.7,3327.2 L1220.7,3323.6 L1221.7,3320.0 L1222.7,3316.4 L1223.8,3312.9 L1224.8,3309.3 L1225.8,3305.7 L1226.9,3302.2 L1228.0,3298.6 L1229.1,3295.0 L1230.2,3291.5 L1231.3,3287.9 L1232.4,3284.4 L1233.5,3280.8 L1234.6,3277.3 L1235.8,3273.8 L1237.0,3270.2 L1238.1,3266.7 L1239.3,3263.2 L1240.5,3259.7 L1241.7,3256.2 L1242.9,3252.7 L1244.2,3249.1 L1245.4,3245.6 L1246.6,3242.1 L1247.9,3238.6 L1249.2,3235.2 L1250.5,3231.7 L1251.8,3228.2 L1253.1,3224.7 L1254.4,3221.2 L1255.7,3217.7 L1257.0,3214.3 L1258.4,3210.8 L1259.7,3207.3 L1261.1,3203.9 L1262.5,3200.4 L1263.9,3197.0 L1265.3,3193.5 L1266.7,3190.1 L1268.1,3186.6 L1269.5,3183.2 L1271.0,3179.8 L1272.4,3176.3 L1273.9,3172.9 L1275.3,3169.5 L1276.8,3166.1 L1278.3,3162.6 L1279.8,3159.2 L1281.3,3155.8 L1282.8,3152.4 L1284.4,3149.0 L1285.9,3145.6 L1287.5,3142.2 L1289.1,3138.8 L1290.6,3135.5 L1292.2,3132.1 L1293.8,3128.7 L1295.5,3125.3 L1297.1,3122.0 L1298.7,3118.6 L1300.4,3115.3 L1302.1,3111.9 L1303.7,3108.6 L1305.4,3105.3 L1307.2,3101.9 L1308.9,3098.6 L1310.6,3095.3 L1312.4,3092.0 L1314.2,3088.7 L1315.9,3085.4 L1317.7,3082.1 L1319.6,3078.8 L1321.4,3075.6 L1323.3,3072.3 L1325.1,3069.1 L1327.0,3065.8 L1328.9,3062.6 L1330.8,3059.3 L1332.8,3056.1 L1334.7,3052.9 L1336.7,3049.7 L1338.7,3046.5 L1340.7,3043.3 L1342.7,3040.2 L1344.8,3037.0 L1346.8,3033.8 L1348.9,3030.7 L1351.0,3027.6 L1353.1,3024.4 L1355.3,3021.3 L1357.4,3018.2 L1359.6,3015.1 L1361.8,3012.0 L1364.1,3008.9 L1366.3,3005.9 L1368.6,3002.8 L1370.9,2999.8 L1373.2,2996.8 L1375.5,2993.7 L1377.8,2990.7 L1380.2,2987.8 L1382.6,2984.8 L1385.0,2981.8 L1387.5,2978.9 L1390.0,2976.0 L1392.5,2973.2 L1395.0,2970.3 L1397.5,2967.5 L1400.1,2964.8 L1402.7,2962.1 L1405.4,2959.4 L1408.0,2956.7 L1410.7,2954.1 L1413.4,2951.6 L1416.2,2949.1 L1419.0,2946.7 L1421.8,2944.3 L1424.6,2942.0 L1427.5,2939.7 L1430.4,2937.5 L1433.3,2935.3 L1436.3,2933.3 L1439.3,2931.2 L1442.3,2929.3 L1445.4,2927.5 L1448.5,2925.7 L1451.7,2924.0 L1454.8,2922.3 L1458.0,2920.7 L1461.3,2919.2 L1464.5,2917.8 L1467.8,2916.4 L1471.2,2915.1 L1474.5,2913.9 L1477.9,2912.7 L1481.3,2911.5 L1484.8,2910.5 L1488.2,2909.4 L1491.7,2908.5 L1495.2,2907.5 L1498.7,2906.6 L1502.3,2905.8 L1505.9,2905.0 L1509.4,2904.3 L1513.1,2903.5 L1516.7,2902.9 L1520.3,2902.2 L1524.0,2901.6 L1527.7,2901.0 L1531.3,2900.5 L1535.1,2900.0 L1538.8,2899.5 L1542.5,2899.0 L1546.2,2898.6 L1550.0,2898.1 L1553.7,2897.7 L1557.5,2897.3 L1561.3,2897.0 L1565.1,2896.6 L1568.8,2896.2 L1572.6,2895.9 L1576.4,2895.6 L1580.2,2895.2 L1584.0,2894.9 L1587.8,2894.6 L1591.6,2894.2 L1595.4,2893.9 L1599.2,2893.5 L1603.0,2893.2 L1606.8,2892.8 L1610.6,2892.5 L1614.4,2892.1 L1618.2,2891.7 L1622.0,2891.3 L1625.8,2890.9 L1629.5,2890.4 L1633.3,2889.9 L1637.0,2889.4 L1640.7,2888.9 L1644.5,2888.4 L1648.2,2887.8 L1651.9,2887.2 L1655.6,2886.6 L1659.3,2885.9 L1662.9,2885.2 L1666.6,2884.5 L1670.2,2883.8 L1673.9,2883.0 L1677.5,2882.2 L1681.1,2881.4 L1684.8,2880.6 L1688.4,2879.8 L1692.0,2878.9 L1695.6,2878.1 L1699.2,2877.2 L1702.8,2876.3 L1706.3,2875.4 L1709.9,2874.4 L1713.5,2873.5 L1717.1,2872.5 L1720.6,2871.6 L1724.2,2870.6 L1727.8,2869.6 L1731.3,2868.6 L1734.9,2867.6 L1738.4,2866.6 L1742.0,2865.6 L1745.6,2864.6 L1749.1,2863.5 L1752.7,2862.5 L1756.2,2861.5 L1759.8,2860.5 L1763.4,2859.4 L1766.9,2858.4 L1770.5,2857.4 L1774.1,2856.3 L1777.6,2855.3 L1781.2,2854.3 L1784.8,2853.3 L1788.4,2852.3 L1792.0,2851.2 L1795.6,2850.2 L1799.2,2849.2 L1802.8,2848.2 L1806.4,2847.3 L1810.0,2846.3 L1813.6,2845.3 L1817.2,2844.3 L1820.8,2843.3 L1824.5,2842.4 L1828.1,2841.4 L1831.7,2840.5 L1835.3,2839.5 L1839.0,2838.6 L1842.6,2837.7 L1846.2,2836.7 L1849.9,2835.8 L1853.5,2834.9 L1857.2,2834.0 L1860.8,2833.1 L1864.5,2832.2 L1868.1,2831.3 L1871.8,2830.5 L1875.4,2829.6 L1879.1,2828.7 L1882.7,2827.9 L1886.4,2827.1 L1890.0,2826.2 L1893.7,2825.4 L1897.3,2824.6 L1901.0,2823.8 L1904.7,2823.0 L1908.3,2822.2 L1912.0,2821.4 L1915.6,2820.6 L1919.3,2819.9 L1923.0,2819.1 L1926.6,2818.4 L1930.3,2817.6 L1933.9,2816.9 L1937.6,2816.2 L1941.3,2815.5 L1944.9,2814.8 L1948.6,2814.1 L1952.2,2813.5 L1955.9,2812.8" stroke="#FFC000" stroke-width="4.5"/>
<path d="M1202.2,3449.0 L1202.7,3445.5 L1203.2,3442.0 L1203.8,3438.5 L1204.4,3435.1 L1205.0,3431.6 L1205.6,3428.2 L1206.3,3424.8 L1207.0,3421.4 L1207.8,3418.0 L1208.5,3414.6 L1209.3,3411.3 L1210.2,3407.9 L1211.0,3404.6 L1211.9,3401.3 L1212.8,3398.0 L1213.7,3394.7 L1214.7,3391.4 L1215.7,3388.1 L1216.7,3384.9 L1217.8,3381.7 L1218.8,3378.4 L1219.9,3375.2 L1221.0,3372.0 L1222.2,3368.8 L1223.4,3365.7 L1224.6,3362.5 L1225.8,3359.3 L1227.0,3356.2 L1228.3,3353.1 L1229.6,3349.9 L1230.9,3346.8 L1232.2,3343.7 L1233.6,3340.7 L1234.9,3337.6 L1236.3,3334.5 L1237.7,3331.5 L1239.2,3328.4 L1240.6,3325.4 L1242.1,3322.3 L1243.6,3319.3 L1245.1,3316.3 L1246.7,3313.3 L1248.2,3310.3 L1249.8,3307.3 L1251.4,3304.4 L1253.0,3301.4 L1254.6,3298.4 L1256.2,3295.5 L1257.9,3292.5 L1259.6,3289.6 L1261.3,3286.7 L1263.0,3283.7 L1264.7,3280.8 L1266.4,3277.9 L1268.2,3275.0 L1269.9,3272.1 L1271.7,3269.2 L1273.5,3266.4 L1275.3,3263.5 L1277.1,3260.6 L1279.0,3257.8 L1280.8,3254.9 L1282.7,3252.0 L1284.5,3249.2 L1286.4,3246.3 L1288.3,3243.5 L1290.2,3240.7 L1292.1,3237.8 L1294.1,3235.0 L1296.0,3232.2 L1297.9,3229.4 L1299.9,3226.6 L1301.9,3223.8 L1303.8,3221.0 L1305.8,3218.2 L1307.8,3215.4 L1309.8,3212.6 L1311.8,3209.8 L1313.9,3207.0 L1315.9,3204.3 L1318.0,3201.5 L1320.0,3198.8 L1322.1,3196.0 L1324.2,3193.3 L1326.3,3190.5 L1328.4,3187.8 L1330.5,3185.1 L1332.6,3182.4 L1334.7,3179.7 L1336.9,3177.0 L1339.0,3174.3 L1341.2,3171.6 L1343.3,3168.9 L1345.5,3166.2 L1347.7,3163.6 L1349.9,3160.9 L1352.1,3158.3 L1354.4,3155.7 L1356.6,3153.0 L1358.9,3150.4 L1361.1,3147.8 L1363.4,3145.2 L1365.7,3142.6 L1367.9,3140.1 L1370.2,3137.5 L1372.6,3134.9 L1374.9,3132.4 L1377.2,3129.9 L1379.5,3127.3 L1381.9,3124.8 L1384.3,3122.3 L1386.6,3119.8 L1389.0,3117.4 L1391.4,3114.9 L1393.8,3112.4 L1396.2,3110.0 L1398.7,3107.6 L1401.1,3105.1 L1403.5,3102.7 L1406.0,3100.3 L1408.5,3097.9 L1411.0,3095.6 L1413.4,3093.2 L1415.9,3090.9 L1418.5,3088.5 L1421.0,3086.2 L1423.5,3083.9 L1426.1,3081.6 L1428.6,3079.4 L1431.2,3077.1 L1433.8,3074.8 L1436.3,3072.6 L1438.9,3070.4 L1441.5,3068.2 L1444.2,3066.0 L1446.8,3063.8 L1449.4,3061.7 L1452.1,3059.5 L1454.7,3057.4 L1457.4,3055.3 L1460.1,3053.2 L1462.8,3051.1 L1465.5,3049.0 L1468.2,3047.0 L1470.9,3044.9 L1473.7,3042.9 L1476.4,3040.9 L1479.2,3038.9 L1482.0,3037.0 L1484.7,3035.0 L1487.5,3033.1 L1490.3,3031.2 L1493.2,3029.3 L1496.0,3027.4 L1498.8,3025.5 L1501.7,3023.7 L1504.5,3021.9 L1507.4,3020.1 L1510.3,3018.3 L1513.2,3016.5 L1516.1,3014.8 L1519.0,3013.1 L1521.9,3011.4 L1524.9,3009.7 L1527.8,3008.0 L1530.8,3006.4 L1533.7,3004.8 L1536.7,3003.2 L1539.7,3001.6 L1542.7,3000.1 L1545.8,2998.6 L1548.8,2997.1 L1551.8,2995.6 L1554.9,2994.1 L1558.0,2992.7 L1561.0,2991.3 L1564.1,2990.0 L1567.2,2988.6 L1570.4,2987.3 L1573.5,2986.0 L1576.6,2984.7 L1579.8,2983.5 L1582.9,2982.2 L1586.1,2981.0 L1589.3,2979.8 L1592.5,2978.6 L1595.7,2977.5 L1598.9,2976.3 L1602.1,2975.1 L1605.3,2974.0 L1608.5,2972.9 L1611.7,2971.8 L1614.9,2970.7 L1618.2,2969.6 L1621.4,2968.5 L1624.7,2967.4 L1627.9,2966.3 L1631.1,2965.2 L1634.4,2964.2 L1637.6,2963.1 L1640.9,2962.0 L1644.1,2960.9 L1647.4,2959.9 L1650.6,2958.8 L1653.9,2957.7 L1657.1,2956.6 L1660.3,2955.5 L1663.6,2954.4 L1666.8,2953.3 L1670.0,2952.2 L1673.3,2951.0 L1676.5,2949.9 L1679.7,2948.7 L1682.9,2947.6 L1686.1,2946.4 L1689.3,2945.2 L1692.5,2944.0 L1695.7,2942.8 L1698.9,2941.6 L1702.1,2940.4 L1705.3,2939.2 L1708.5,2937.9 L1711.7,2936.7 L1714.9,2935.5 L1718.1,2934.2 L1721.3,2933.0 L1724.4,2931.7 L1727.6,2930.4 L1730.8,2929.2 L1734.0,2927.9 L1737.1,2926.6 L1740.3,2925.3 L1743.5,2924.1 L1746.6,2922.8 L1749.8,2921.5 L1753.0,2920.2 L1756.1,2918.9 L1759.3,2917.6 L1762.5,2916.3 L1765.6,2915.0 L1768.8,2913.7 L1772.0,2912.4 L1775.1,2911.2 L1778.3,2909.9 L1781.4,2908.6 L1784.6,2907.3 L1787.8,2906.0 L1790.9,2904.7 L1794.1,2903.4 L1797.3,2902.1 L1800.4,2900.8 L1803.6,2899.6 L1806.8,2898.3 L1809.9,2897.0 L1813.1,2895.8 L1816.3,2894.5 L1819.5,2893.2 L1822.6,2892.0 L1825.8,2890.7 L1829.0,2889.5 L1832.2,2888.3 L1835.4,2887.0 L1838.5,2885.8 L1841.7,2884.6 L1844.9,2883.4 L1848.1,2882.2 L1851.3,2881.0 L1854.5,2879.8 L1857.7,2878.7 L1860.9,2877.5 L1864.1,2876.4 L1867.4,2875.2 L1870.6,2874.1 L1873.8,2873.0 L1877.0,2871.8 L1880.3,2870.7 L1883.5,2869.7 L1886.7,2868.6 L1890.0,2867.5 L1893.2,2866.5 L1896.5,2865.4 L1899.7,2864.4 L1903.0,2863.4 L1906.2,2862.4 L1909.5,2861.4 L1912.8,2860.4 L1916.1,2859.5 L1919.4,2858.5 L1922.6,2857.6 L1925.9,2856.7 L1929.2,2855.8 L1932.6,2854.9 L1935.9,2854.1 L1939.2,2853.2 L1942.5,2852.4 L1945.9,2851.6 L1949.2,2850.8 L1952.5,2850.0 L1955.9,2849.3" stroke="#0000D6" stroke-width="4.5"/>
</g>
<rect x="1193.3" y="2721.4" width="760.3" height="727.4000000000001" fill="none" stroke="#000" stroke-width="4"/>
<text transform="translate(1009.5,2745)" x="-2.6" y="0" font-size="74.5" fill="#000" ><tspan font-family="'Liberation Sans', Arial, sans-serif" font-weight="bold" font-style="normal">620</tspan></text>
<text transform="translate(1009.5,2987)" x="-2.2" y="0" font-size="74.5" fill="#000" ><tspan font-family="'Liberation Sans', Arial, sans-serif" font-weight="bold" font-style="normal">580</tspan></text>
<text transform="translate(1009.5,3234)" x="-2.2" y="0" font-size="74.5" fill="#000" ><tspan font-family="'Liberation Sans', Arial, sans-serif" font-weight="bold" font-style="normal">540</tspan></text>
<text transform="translate(1009.5,3476)" x="-2.2" y="0" font-size="74.5" fill="#000" ><tspan font-family="'Liberation Sans', Arial, sans-serif" font-weight="bold" font-style="normal">500</tspan></text>
<text transform="translate(1083,3557.5)" x="-3" y="0" font-size="74" fill="#000" ><tspan font-family="'Liberation Sans', Arial, sans-serif" font-weight="bold" font-style="normal">0.0025</tspan></text>
<text transform="translate(1482.6,3557.5)" x="-3" y="0" font-size="74" fill="#000" ><tspan font-family="'Liberation Sans', Arial, sans-serif" font-weight="bold" font-style="normal">0.005</tspan></text>
<text transform="translate(1843.1,3557.5)" x="-3" y="0" font-size="74" fill="#000" ><tspan font-family="'Liberation Sans', Arial, sans-serif" font-weight="bold" font-style="normal">0.0075</tspan></text>
</svg></body></html>
